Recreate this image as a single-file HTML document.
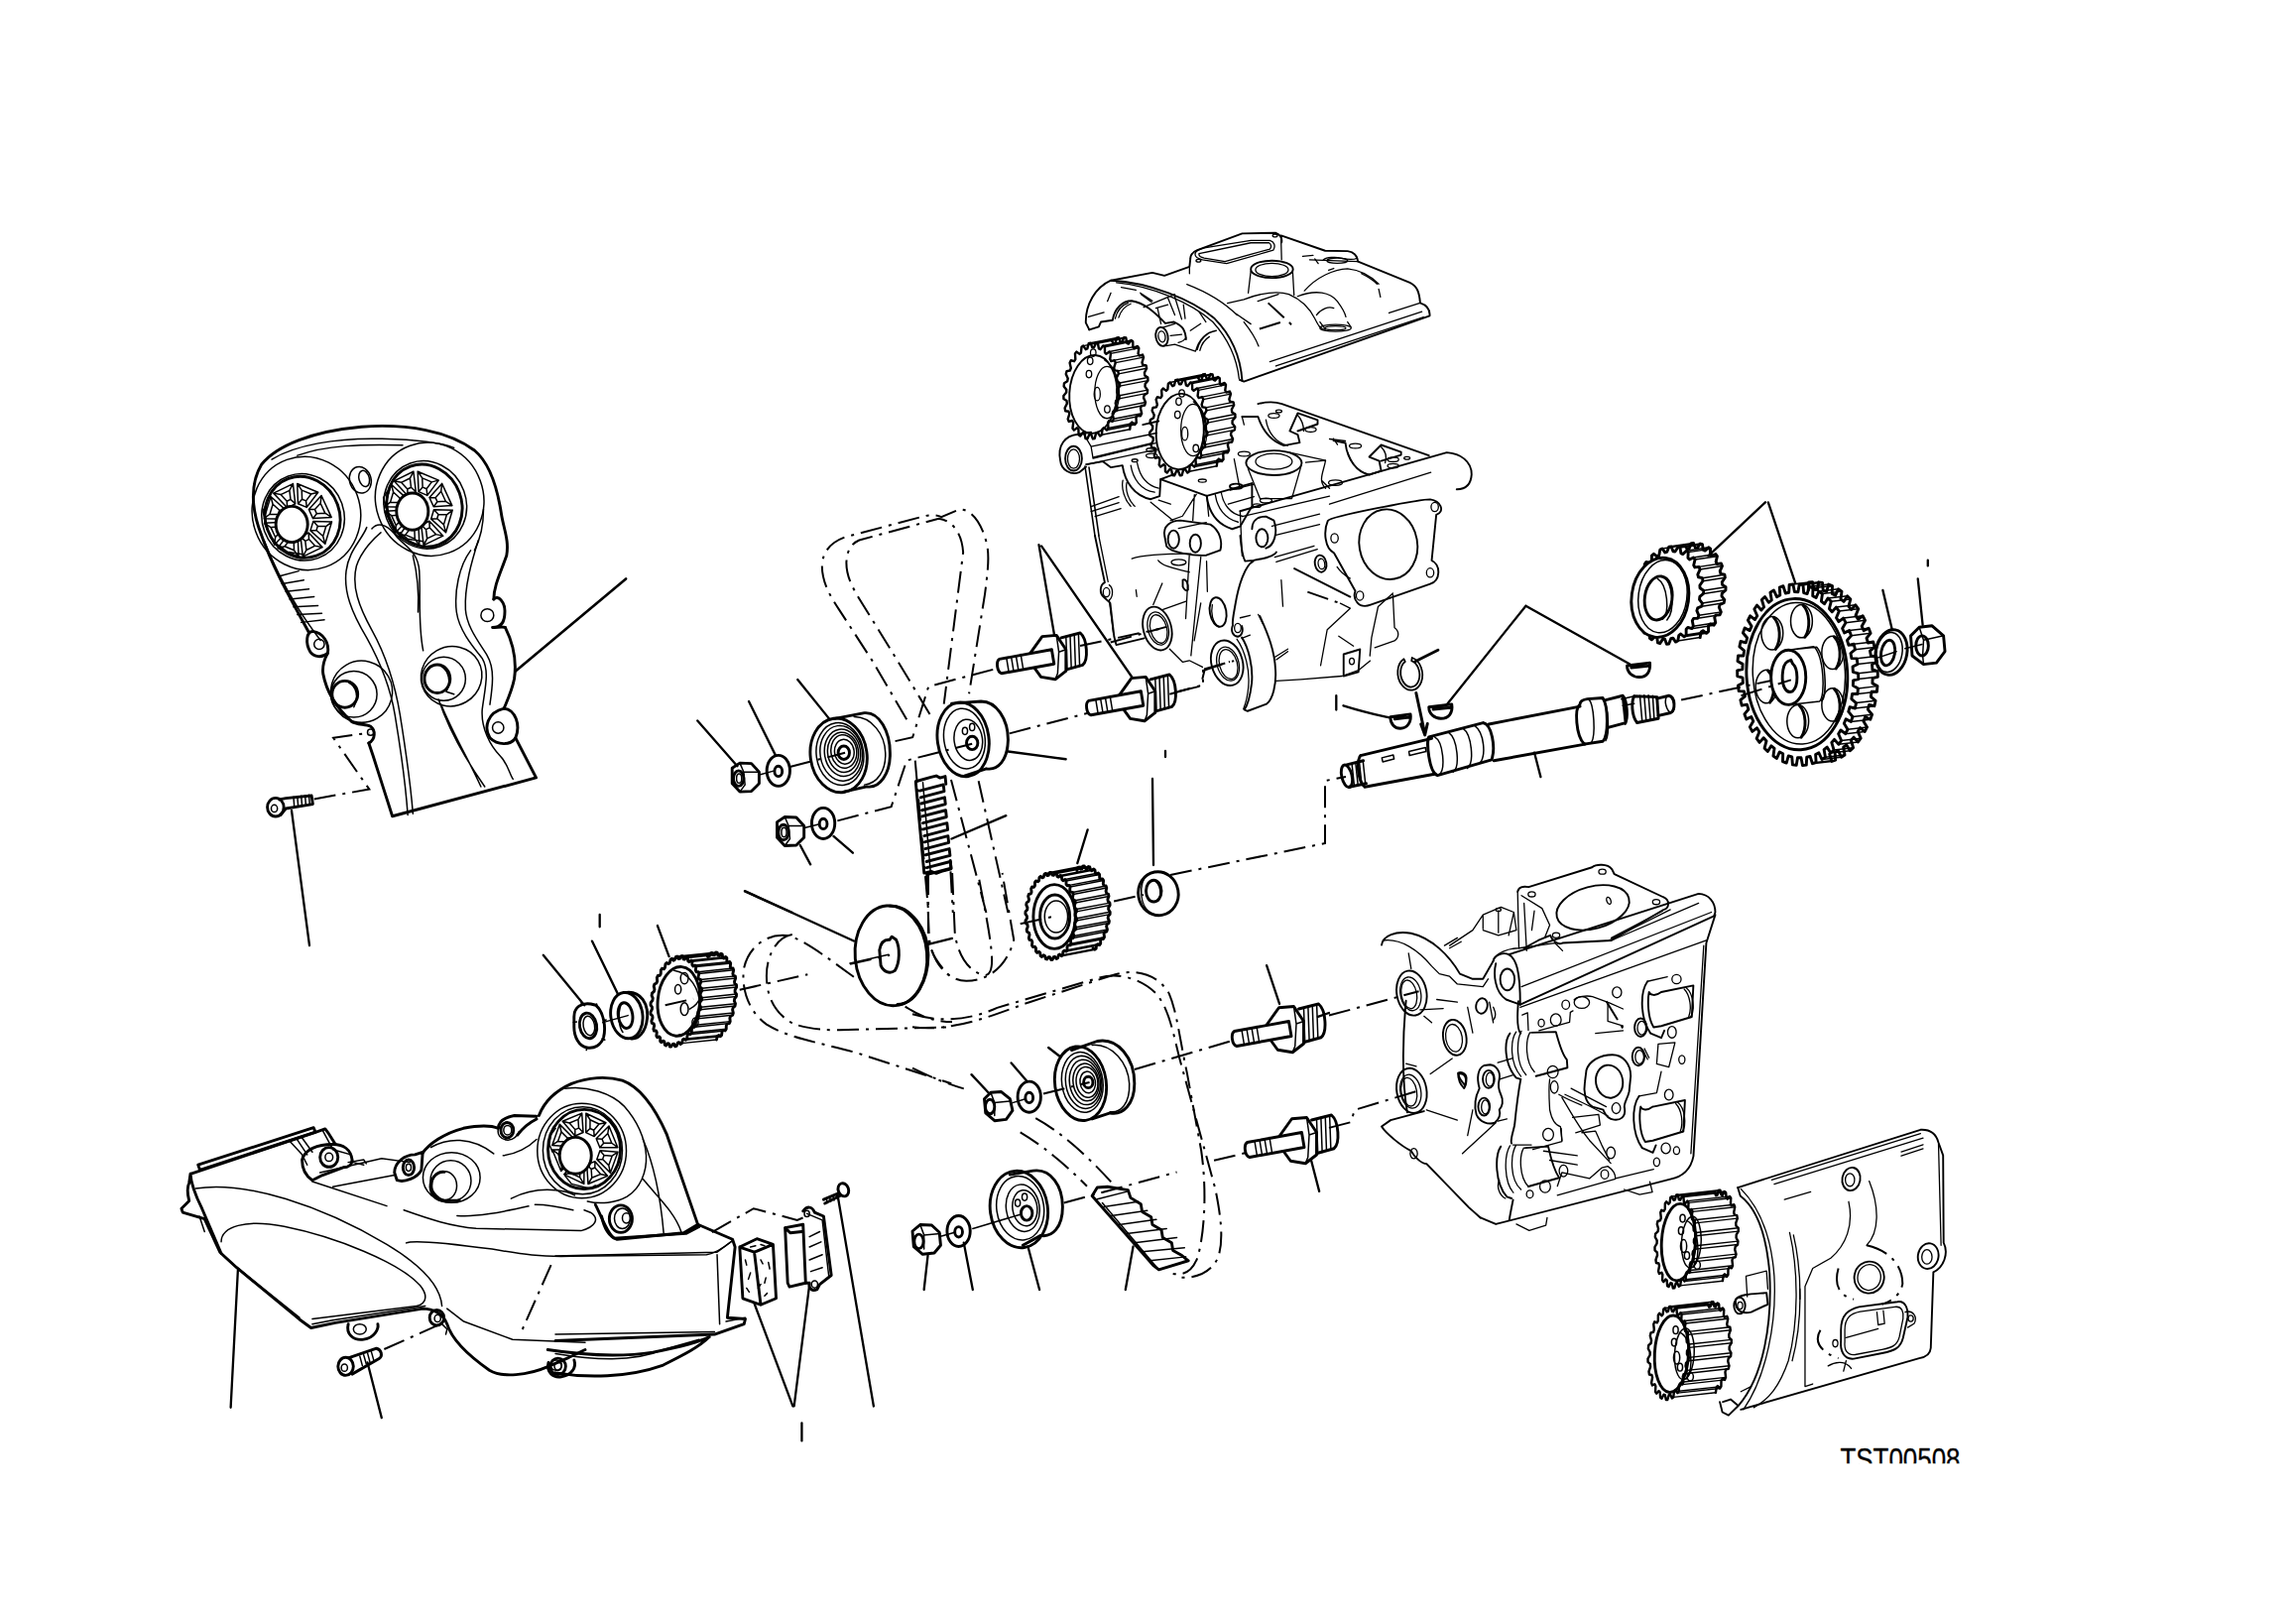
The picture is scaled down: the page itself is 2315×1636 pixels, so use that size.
<!DOCTYPE html>
<html><head><meta charset="utf-8"><style>
html,body{margin:0;padding:0;background:#fff;width:2315px;height:1636px;overflow:hidden}
svg{position:absolute;left:0;top:0}
.t,.tg{fill:none;stroke:#000;stroke-width:1.5;stroke-linejoin:round;stroke-linecap:round}
.k,.kg{fill:none;stroke:#000;stroke-width:2.9;stroke-linejoin:round;stroke-linecap:round}
.thin .t{stroke-width:1.3}
.thin .k{stroke-width:1.9}
.kg{stroke-width:2.4}
.tg{stroke-width:1.4}
.f{fill:#000;stroke:none}
.w{fill:#fff;stroke:#000;stroke-width:2.2}
.d{fill:none;stroke:#000;stroke-width:2;stroke-dasharray:22 7 3 7}
path,ellipse,circle,rect,line,polyline,polygon{vector-effect:non-scaling-stroke}
text{font-family:"Liberation Sans",sans-serif}
</style></head><body>
<svg width="2315" height="1636" viewBox="0 0 2315 1636">
<!-- A: top-left cover region [230,410,650,830] -->
<g transform="translate(230,410) scale(0.25878)">
<path class="k" d="M640,1595 L600,1470 L565,1360 L548,1310 M480,1225 C430,1180 385,1120 370,1040 C365,1000 380,975 388,960 M315,880 C250,760 170,620 130,500 C90,400 85,300 130,225 C190,150 330,95 520,78 C700,65 860,95 960,170 C1020,220 1050,320 1065,420 C1075,480 1095,520 1085,580 C1060,650 1035,700 1035,750 M1080,860 C1110,920 1125,990 1115,1060 C1105,1110 1085,1150 1075,1175 M1120,1290 L1200,1445 L640,1595"/>
<path class="k" d="M1035,750 C1050,730 1080,760 1078,800 C1078,840 1060,860 1030,860 C1050,860 1070,855 1080,860"/>
<path class="t" d="M1010,812 m-25,0 a25,25 0 1,0 50,0 a25,25 0 1,0 -50,0"/>
<path class="k" d="M1075,1175 C1120,1180 1140,1240 1120,1290 C1100,1320 1050,1320 1020,1290 C995,1250 1010,1190 1075,1175"/>
<path class="t" d="M1052,1250 m-22,0 a22,22 0 1,0 44,0 a22,22 0 1,0 -44,0"/>
<path class="k" d="M388,960 C395,920 370,880 330,875 C305,875 300,920 320,955 C335,975 365,980 388,960"/>
<path class="t" d="M355,925 m-20,0 a20,20 0 1,0 40,0 a20,20 0 1,0 -40,0"/>
<path class="k" d="M548,1310 C575,1295 575,1260 555,1245 C535,1235 500,1240 480,1225"/>
<path class="t" d="M555,1268 m-12,0 a12,12 0 1,0 24,0 a12,12 0 1,0 -24,0"/>
<!-- inner top outline -->
<path class="t" d="M170,205 C260,150 420,120 600,125 C720,128 830,140 880,160 M270,190 C380,150 520,145 680,150"/>
<!-- left pulley ring -->
<ellipse class="t" cx="305" cy="415" rx="210" ry="222" transform="rotate(-20 305 415)"/>
<ellipse class="t" cx="292" cy="430" rx="160" ry="170" transform="rotate(-20 292 430)"/>
<ellipse class="k" cx="290" cy="430" rx="145" ry="160" transform="rotate(-20 290 430)"/>
<!-- right pulley ring -->
<ellipse class="t" cx="785" cy="360" rx="210" ry="222" transform="rotate(-20 785 360)"/>
<ellipse class="t" cx="768" cy="382" rx="160" ry="172" transform="rotate(-20 768 382)"/>
<ellipse class="k" cx="765" cy="385" rx="145" ry="162" transform="rotate(-20 765 385)"/>
<!-- spokes left -->
<path class="t" d="M331.6,446.7 L403.9,448.5 L377.9,534.4 L320.7,482.4 Z M349.0,464.9 L381.5,465.8 L369.8,504.4 L344.1,481.0 Z M331.6,446.7 L349.0,464.9 M403.9,448.5 L381.5,465.8 M377.9,534.4 L369.8,504.4 M320.7,482.4 L344.1,481.0 M313.8,490.7 L367.1,547.3 L291.2,584.1 L282.3,506.0 Z M314.9,516.1 L338.9,541.6 L304.8,558.2 L300.7,523.0 Z M313.8,490.7 L314.9,516.1 M367.1,547.3 L338.9,541.6 M291.2,584.1 L304.8,558.2 M282.3,506.0 L300.7,523.0 M271.6,506.2 L274.6,584.4 L193.3,550.6 L237.8,492.2 Z M255.8,523.9 L257.1,559.1 L220.5,543.8 L240.5,517.5 Z M271.6,506.2 L255.8,523.9 M274.6,584.4 L257.1,559.1 M193.3,550.6 L220.5,543.8 M237.8,492.2 L240.5,517.5 M229.6,484.1 L180.6,538.1 L141.5,453.5 L213.3,448.9 Z M206.1,483.7 L184.1,508.0 L166.5,469.9 L198.8,467.8 Z M229.6,484.1 L206.1,483.7 M180.6,538.1 L184.1,508.0 M141.5,453.5 L166.5,469.9 M213.3,448.9 L198.8,467.8 M212.4,437.3 L140.1,435.5 L166.1,349.6 L223.3,401.6 Z M195.0,419.1 L162.5,418.2 L174.2,379.6 L199.9,403.0 Z M212.4,437.3 L195.0,419.1 M140.1,435.5 L162.5,418.2 M166.1,349.6 L174.2,379.6 M223.3,401.6 L199.9,403.0 M230.2,393.3 L176.9,336.7 L252.8,299.9 L261.7,378.0 Z M229.1,367.9 L205.1,342.4 L239.2,325.8 L243.3,361.0 Z M230.2,393.3 L229.1,367.9 M176.9,336.7 L205.1,342.4 M252.8,299.9 L239.2,325.8 M261.7,378.0 L243.3,361.0 M272.4,377.8 L269.4,299.6 L350.7,333.4 L306.2,391.8 Z M288.2,360.1 L286.9,324.9 L323.5,340.2 L303.5,366.5 Z M272.4,377.8 L288.2,360.1 M269.4,299.6 L286.9,324.9 M350.7,333.4 L323.5,340.2 M306.2,391.8 L303.5,366.5 M314.4,399.9 L363.4,345.9 L402.5,430.5 L330.7,435.1 Z M337.9,400.3 L359.9,376.0 L377.5,414.1 L345.2,416.2 Z M314.4,399.9 L337.9,400.3 M363.4,345.9 L359.9,376.0 M402.5,430.5 L377.5,414.1 M330.7,435.1 L345.2,416.2"/>
<ellipse class="k" style="fill:#fff" cx="248" cy="458" rx="62" ry="70"/>
<path class="t" d="M150,380 l-15,25 l10,40 M200,540 l30,25 l60,10"/>
<path class="t" d="M801.7,401.0 L874.1,403.1 L848.4,489.9 L791.0,437.0 Z M819.2,419.5 L851.8,420.5 L840.2,459.5 L814.4,435.8 Z M801.7,401.0 L819.2,419.5 M874.1,403.1 L851.8,420.5 M848.4,489.9 L840.2,459.5 M791.0,437.0 L814.4,435.8 M784.1,445.4 L837.7,502.9 L761.8,539.8 L752.5,460.8 Z M785.3,471.1 L809.4,497.0 L775.3,513.6 L771.1,478.0 Z M784.1,445.4 L785.3,471.1 M837.7,502.9 L809.4,497.0 M761.8,539.8 L775.3,513.6 M752.5,460.8 L771.1,478.0 M741.9,461.0 L745.2,540.1 L663.6,505.5 L707.9,446.6 Z M726.1,478.7 L727.6,514.3 L690.9,498.8 L710.8,472.3 Z M741.9,461.0 L726.1,478.7 M745.2,540.1 L727.6,514.3 M663.6,505.5 L690.9,498.8 M707.9,446.6 L710.8,472.3 M699.7,438.4 L650.9,492.9 L611.3,407.1 L683.3,402.8 Z M676.2,437.9 L654.2,462.4 L636.4,423.8 L668.8,421.8 Z M699.7,438.4 L676.2,437.9 M650.9,492.9 L654.2,462.4 M611.3,407.1 L636.4,423.8 M683.3,402.8 L668.8,421.8 M682.3,391.0 L609.9,388.9 L635.6,302.1 L693.0,355.0 Z M664.8,372.5 L632.2,371.5 L643.8,332.5 L669.6,356.2 Z M682.3,391.0 L664.8,372.5 M609.9,388.9 L632.2,371.5 M635.6,302.1 L643.8,332.5 M693.0,355.0 L669.6,356.2 M699.9,346.6 L646.3,289.1 L722.2,252.2 L731.5,331.2 Z M698.7,320.9 L674.6,295.0 L708.7,278.4 L712.9,314.0 Z M699.9,346.6 L698.7,320.9 M646.3,289.1 L674.6,295.0 M722.2,252.2 L708.7,278.4 M731.5,331.2 L712.9,314.0 M742.1,331.0 L738.8,251.9 L820.4,286.5 L776.1,345.4 Z M757.9,313.3 L756.4,277.7 L793.1,293.2 L773.2,319.7 Z M742.1,331.0 L757.9,313.3 M738.8,251.9 L756.4,277.7 M820.4,286.5 L793.1,293.2 M776.1,345.4 L773.2,319.7 M784.3,353.6 L833.1,299.1 L872.7,384.9 L800.7,389.2 Z M807.8,354.1 L829.8,329.6 L847.6,368.2 L815.2,370.2 Z M784.3,353.6 L807.8,354.1 M833.1,299.1 L829.8,329.6 M872.7,384.9 L847.6,368.2 M800.7,389.2 L815.2,370.2"/>
<ellipse class="k" style="fill:#fff" cx="718" cy="408" rx="62" ry="72"/>
<path class="t" d="M620,330 l-15,25 l10,40 M670,490 l30,25 l60,10"/>
<!-- small hole -->
<ellipse class="t" cx="515" cy="285" rx="42" ry="52" transform="rotate(-15 515 285)"/>
<ellipse class="t" cx="530" cy="280" rx="20" ry="32" transform="rotate(-15 530 280)"/>
<!-- channels -->
<path class="t" d="M540,470 C520,520 470,560 460,640 C450,720 480,800 540,900 C590,990 630,1080 650,1200 C670,1320 690,1450 700,1590"/>
<path class="t" d="M595,490 C570,510 520,560 500,620 C480,700 510,780 560,870 C610,960 650,1080 670,1200 C690,1330 710,1450 720,1585"/>
<path class="t" d="M560,475 C590,440 630,470 660,510 C700,550 740,570 745,640 C750,760 740,850 760,950 M720,580 C735,640 745,700 740,800"/>
<path class="t" d="M830,1160 C880,1280 940,1380 985,1480 M820,1140 C860,1260 930,1380 1000,1480"/>
<path class="t" d="M945,560 C900,620 880,720 890,800 C900,870 950,930 990,980 C1020,1030 1000,1100 990,1180 C985,1250 1020,1320 1060,1360 C1090,1390 1100,1440 1110,1450"/>
<path class="t" d="M975,520 C950,600 920,700 925,790 C930,860 980,920 1010,970 C1040,1020 1030,1090 1020,1160"/>
<path class="t" d="M995,400 C995,470 980,520 960,560"/>
<path class="t" d="M140,520 C170,600 220,700 270,780 C300,830 330,870 360,910"/>
<!-- fins -->
<path class="t" d="M200,660 L275,640 M210,690 L295,675 M225,720 L315,710 M240,750 L335,740 M255,780 L350,775 M270,810 L365,805 M285,840 L375,830"/>
<!-- bosses -->
<ellipse class="t" cx="520" cy="1110" rx="120" ry="120" transform="rotate(-30 520 1110)"/>
<ellipse class="t" cx="490" cy="1120" rx="90" ry="90"/>
<ellipse class="k" cx="455" cy="1120" rx="50" ry="52"/>
<path class="t" d="M470,1075 C500,1090 510,1130 490,1170"/>
<ellipse class="t" cx="870" cy="1050" rx="120" ry="115" transform="rotate(-30 870 1050)"/>
<ellipse class="t" cx="840" cy="1060" rx="85" ry="85"/>
<ellipse class="k" cx="815" cy="1060" rx="50" ry="55"/>
<path class="t" d="M830,1010 C860,1030 870,1070 850,1110 L880,1120"/>
<!-- leader -->
<path class="k" style="stroke-width:2.6" d="M1120,1030 L1550,670"/>
<!-- dash-dot -->
<path class="d" d="M335,1528 L550,1490 L410,1290 L550,1270"/>
<!-- bolt -->
<ellipse class="k" cx="185" cy="1560" rx="32" ry="36"/>
<ellipse class="t" cx="180" cy="1565" rx="12" ry="14"/>
<path class="k" d="M200,1530 L225,1525 L325,1515 L330,1548 L225,1565 L205,1590"/>
<path class="t" d="M255,1520 L258,1560 M270,1518 L273,1558 M285,1516 L288,1555 M300,1514 L303,1552 M315,1512 L318,1550"/>

</g>
<!-- B: cylinder head top region [1000,200,1600,700] scale 3.247 -->
<g class="thin" transform="translate(1000,200) scale(0.30801)">
<!-- cam gear 1 -->
<path class="kg" d="M409.7,634.3 L418.1,645.1 L417.0,655.4 L406.6,662.0 L404.9,670.9 L411.3,685.3 L408.7,694.8 L397.9,696.7 L394.9,704.8 L398.8,721.7 L394.9,729.9 L384.3,726.9 L380.2,733.5 L381.4,751.8 L376.4,758.1 L366.8,750.5 L361.9,755.1 L360.2,773.6 L354.5,777.6 L346.5,765.9 L341.2,768.3 L336.8,785.7 L330.8,787.1 L325.0,772.0 L319.6,772.0 L312.7,787.1 L306.8,785.8 L303.6,768.4 L298.4,766.0 L289.6,777.9 L284.2,773.9 L283.8,755.4 L279.2,750.8 L269.1,758.5 L264.5,752.2 L266.9,733.9 L263.3,727.3 L252.5,730.4 L249.1,722.2 L254.1,705.3 L251.7,697.2 L240.9,695.5 L239.0,685.9 L246.3,671.5 L245.2,662.6 L235.3,656.1 L234.8,645.8 L244.0,635.0 L244.3,625.7 L235.9,614.9 L237.0,604.6 L247.4,598.0 L249.1,589.1 L242.7,574.7 L245.3,565.2 L256.1,563.3 L259.1,555.2 L255.2,538.3 L259.1,530.1 L269.7,533.1 L273.8,526.5 L272.6,508.2 L277.6,501.9 L287.2,509.5 L292.1,504.9 L293.8,486.4 L299.5,482.4 L307.5,494.1 L312.8,491.7 L317.2,474.3 L323.2,472.9 L329.0,488.0 L334.4,488.0 L341.3,472.9 L347.2,474.2 L350.4,491.6 L355.6,494.0 L364.4,482.1 L369.8,486.1 L370.2,504.6 L374.8,509.2 L384.9,501.5 L389.5,507.8 L387.1,526.1 L390.7,532.7 L401.5,529.6 L404.9,537.8 L399.9,554.7 L402.3,562.8 L413.1,564.5 L415.0,574.1 L407.7,588.5 L408.8,597.4 L418.7,603.9 L419.2,614.2 L410.0,625.0 Z"/>
<path class="tg" d="M418.1,645.1 l92.0,-18.0 M417.0,655.4 l92.0,-18.0 M411.3,685.3 l92.0,-18.0 M408.7,694.8 l92.0,-18.0 M398.8,721.7 l92.0,-18.0 M394.9,729.9 l92.0,-18.0 M381.4,751.8 l92.0,-18.0 M376.4,758.1 l92.0,-18.0 M360.2,773.6 l92.0,-18.0 M299.5,482.4 l92.0,-18.0 M317.2,474.3 l92.0,-18.0 M323.2,472.9 l92.0,-18.0 M341.3,472.9 l92.0,-18.0 M347.2,474.2 l92.0,-18.0 M364.4,482.1 l92.0,-18.0 M369.8,486.1 l92.0,-18.0 M384.9,501.5 l92.0,-18.0 M389.5,507.8 l92.0,-18.0 M401.5,529.6 l92.0,-18.0 M404.9,537.8 l92.0,-18.0 M413.1,564.5 l92.0,-18.0 M415.0,574.1 l92.0,-18.0 M418.7,603.9 l92.0,-18.0 M419.2,614.2 l92.0,-18.0"/>
<path class="kg" d="M501.7,616.3 L510.1,627.1 L509.0,637.4 L498.6,644.0 L496.9,652.9 L503.3,667.3 L500.7,676.8 L489.9,678.7 L486.9,686.8 L490.8,703.7 L486.9,711.9 L476.3,708.9 L472.2,715.5 L473.4,733.8 L468.4,740.1 L458.8,732.5 L453.9,737.1 L452.2,755.6 M391.5,464.4 L399.5,476.1 L404.8,473.7 L409.2,456.3 L415.2,454.9 L421.0,470.0 L426.4,470.0 L433.3,454.9 L439.2,456.2 L442.4,473.6 L447.6,476.0 L456.4,464.1 L461.8,468.1 L462.2,486.6 L466.8,491.2 L476.9,483.5 L481.5,489.8 L479.1,508.1 L482.7,514.7 L493.5,511.6 L496.9,519.8 L491.9,536.7 L494.3,544.8 L505.1,546.5 L507.0,556.1 L499.7,570.5 L500.8,579.4 L510.7,585.9 L511.2,596.2 L502.0,607.0 L501.7,616.3"/>
<ellipse class="k" cx="332" cy="641" rx="78" ry="128" transform="rotate(3 332 641)"/>
<ellipse class="t" cx="377" cy="635" rx="40" ry="85"/>
<path class="t" d="M370,530 C420,560 425,660 395,700"/>
<ellipse class="t" cx="322" cy="532" rx="9" ry="12"/><ellipse class="t" cx="318" cy="575" rx="9" ry="12"/><ellipse class="t" cx="345" cy="640" rx="10" ry="22"/><ellipse class="t" cx="378" cy="690" rx="9" ry="12"/><ellipse class="t" cx="332" cy="505" rx="9" ry="12"/>
<!-- cam gear 2 -->
<path class="kg" d="M697.4,754.5 L706.1,765.3 L705.0,775.5 L694.3,782.1 L692.5,791.1 L699.2,805.4 L696.5,815.0 L685.3,816.8 L682.2,824.9 L686.3,841.8 L682.2,850.0 L671.3,847.0 L667.1,853.6 L668.3,871.9 L663.2,878.2 L653.2,870.6 L648.2,875.2 L646.5,893.7 L640.7,897.7 L632.4,885.9 L626.9,888.3 L622.4,905.7 L616.2,907.1 L610.2,892.0 L604.6,892.0 L597.5,907.1 L591.4,905.8 L588.0,888.4 L582.7,886.0 L573.7,897.8 L568.1,893.9 L567.6,875.4 L562.9,870.7 L552.4,878.4 L547.7,872.2 L550.1,853.8 L546.4,847.2 L535.2,850.3 L531.7,842.1 L536.9,825.2 L534.3,817.1 L523.3,815.3 L521.2,805.8 L528.8,791.4 L527.6,782.4 L517.3,775.9 L516.9,765.7 L526.3,754.8 L526.6,745.5 L517.9,734.7 L519.0,724.5 L529.7,717.9 L531.5,708.9 L524.8,694.6 L527.5,685.0 L538.7,683.2 L541.8,675.1 L537.7,658.2 L541.8,650.0 L552.7,653.0 L556.9,646.4 L555.7,628.1 L560.8,621.8 L570.8,629.4 L575.8,624.8 L577.5,606.3 L583.3,602.3 L591.6,614.1 L597.1,611.7 L601.6,594.3 L607.8,592.9 L613.8,608.0 L619.4,608.0 L626.5,592.9 L632.6,594.2 L636.0,611.6 L641.3,614.0 L650.3,602.2 L655.9,606.1 L656.4,624.6 L661.1,629.3 L671.6,621.6 L676.3,627.8 L673.9,646.2 L677.6,652.8 L688.8,649.7 L692.3,657.9 L687.1,674.8 L689.7,682.9 L700.7,684.7 L702.8,694.2 L695.2,708.6 L696.4,717.6 L706.7,724.1 L707.1,734.3 L697.7,745.2 Z"/>
<path class="tg" d="M706.1,765.3 l90.0,-18.0 M705.0,775.5 l90.0,-18.0 M699.2,805.4 l90.0,-18.0 M696.5,815.0 l90.0,-18.0 M686.3,841.8 l90.0,-18.0 M682.2,850.0 l90.0,-18.0 M668.3,871.9 l90.0,-18.0 M663.2,878.2 l90.0,-18.0 M646.5,893.7 l90.0,-18.0 M583.3,602.3 l90.0,-18.0 M601.6,594.3 l90.0,-18.0 M607.8,592.9 l90.0,-18.0 M626.5,592.9 l90.0,-18.0 M632.6,594.2 l90.0,-18.0 M650.3,602.2 l90.0,-18.0 M655.9,606.1 l90.0,-18.0 M671.6,621.6 l90.0,-18.0 M676.3,627.8 l90.0,-18.0 M688.8,649.7 l90.0,-18.0 M692.3,657.9 l90.0,-18.0 M700.7,684.7 l90.0,-18.0 M702.8,694.2 l90.0,-18.0 M706.7,724.1 l90.0,-18.0 M707.1,734.3 l90.0,-18.0"/>
<path class="kg" d="M787.4,736.5 L796.1,747.3 L795.0,757.5 L784.3,764.1 L782.5,773.1 L789.2,787.4 L786.5,797.0 L775.3,798.8 L772.2,806.9 L776.3,823.8 L772.2,832.0 L761.3,829.0 L757.1,835.6 L758.3,853.9 L753.2,860.2 L743.2,852.6 L738.2,857.2 L736.5,875.7 M673.3,584.3 L681.6,596.1 L687.1,593.7 L691.6,576.3 L697.8,574.9 L703.8,590.0 L709.4,590.0 L716.5,574.9 L722.6,576.2 L726.0,593.6 L731.3,596.0 L740.3,584.2 L745.9,588.1 L746.4,606.6 L751.1,611.3 L761.6,603.6 L766.3,609.8 L763.9,628.2 L767.6,634.8 L778.8,631.7 L782.3,639.9 L777.1,656.8 L779.7,664.9 L790.7,666.7 L792.8,676.2 L785.2,690.6 L786.4,699.6 L796.7,706.1 L797.1,716.3 L787.7,727.2 L787.4,736.5"/>
<ellipse class="k" cx="616" cy="763" rx="78" ry="124" transform="rotate(3 616 763)"/>
<ellipse class="t" cx="659" cy="758" rx="40" ry="85"/>
<path class="t" d="M660,665 C710,695 715,790 685,830"/>
<ellipse class="t" cx="612" cy="665" rx="9" ry="12"/><ellipse class="t" cx="608" cy="708" rx="9" ry="12"/><ellipse class="t" cx="632" cy="770" rx="10" ry="22"/><ellipse class="t" cx="668" cy="818" rx="9" ry="12"/><ellipse class="t" cx="622" cy="638" rx="9" ry="12"/>

<!-- exhaust flange -->
<path class="k" d="M1100,1055 C1110,1040 1400,985 1435,985 C1470,990 1485,1025 1455,1035 L1440,1185 C1470,1200 1470,1250 1435,1262 L1240,1330 C1200,1345 1180,1310 1190,1285 L1120,1160 C1090,1145 1085,1090 1100,1055 Z"/>
<ellipse class="k" cx="1298" cy="1132" rx="95" ry="115" transform="rotate(-10 1298 1132)"/>
<ellipse class="t" cx="1122" cy="1112" rx="12" ry="15"/><ellipse class="t" cx="1450" cy="1010" rx="12" ry="15"/><ellipse class="t" cx="1435" cy="1225" rx="12" ry="15"/><ellipse class="t" cx="1205" cy="1300" rx="12" ry="15"/>
</g>
<!-- V: valve cover [1080,220,1480,420] scale 5.74 -->
<g class="thin" transform="translate(1080,220) scale(0.17422)">
<path class="k" d="M105,645 L85,605 C82,500 140,400 230,360 L470,315 L540,332 L685,280 L690,235 C690,210 705,195 730,185 L990,88 L1185,85 C1210,95 1222,115 1218,140 L1215,100 L1470,188 L1600,190 C1640,195 1655,215 1660,250 L1960,372 C2000,390 2015,425 2020,490 C2065,505 2078,530 2075,565 L1000,945 L975,935"/>
<path class="t" d="M1215,130 L1218,240 M685,280 L685,320 M2020,490 L1840,548 M2030,540 L1150,830 M2040,572 L1185,855 M1660,250 L1380,240"/>
<path class="t" d="M718,205 C720,190 740,180 770,172 L1040,128 L1150,128 C1175,135 1185,160 1170,185 L900,262 L760,240 C730,232 715,220 718,205 Z"/>
<path class="t" d="M740,205 L1040,142 L1145,142 C1160,150 1160,170 1150,178 L890,250 L770,230 C745,225 738,215 740,205 Z"/>
<ellipse class="t" cx="737" cy="245" rx="14" ry="8"/><ellipse class="t" cx="1180" cy="100" rx="14" ry="8"/>
<path class="k" d="M230,360 C450,370 700,470 830,580 C930,680 980,800 990,940"/>
<path class="t" d="M262,372 C470,392 700,490 820,600 C910,700 958,800 972,928"/>
<path class="t" d="M670,382 C800,432 900,500 960,560 M950,550 L1040,612 M1000,600 C1040,650 1070,700 1085,740"/>
<path class="k" d="M105,645 L160,628 L172,600 L240,590 C250,520 300,478 350,478 C420,488 480,540 545,608 L595,600 C640,620 660,640 665,700"/>
<path class="t" d="M255,580 C270,520 300,500 330,490 M275,575 C290,525 320,505 345,495 M100,570 L190,545 M420,515 L600,440 M490,520 L560,500"/>
<ellipse class="k" cx="525" cy="685" rx="35" ry="55" transform="rotate(-10 525 685)"/>
<ellipse class="t" cx="525" cy="685" rx="20" ry="32" transform="rotate(-10 525 685)"/>
<path class="t" d="M530,632 L600,610 M550,738 L600,730 L720,770 C740,700 780,660 840,650 M575,680 L640,672 M620,720 C650,712 660,700 665,690 M730,760 C740,720 760,690 790,670 M745,765 C755,725 775,700 800,685"/>
<path class="t" d="M560,460 L600,560 M600,455 L640,585 M650,500 L660,580 M400,432 L470,478 M405,440 L465,485 M290,400 L375,415 M230,432 L210,480 M500,520 L520,610 M740,540 L780,600 M690,650 L750,610"/>
<!-- filler cylinder -->
<ellipse class="k" cx="1162" cy="295" rx="122" ry="50"/>
<ellipse class="t" cx="1162" cy="298" rx="95" ry="38"/>
<path class="t" d="M1040,305 L1025,432 M1282,305 L1290,445"/>
<path class="t" d="M1340,220 L1400,215 M1410,235 L1430,262 M1460,240 C1480,225 1530,222 1560,230 C1600,240 1640,240 1650,232"/>
<ellipse class="t" cx="1540" cy="245" rx="60" ry="15"/>
<!-- humps -->
<path class="t" d="M905,492 L1000,470 C1100,430 1200,420 1260,440 C1330,470 1380,520 1410,580 C1430,620 1440,640 1470,645"/>
<path class="t" d="M1310,452 C1420,410 1500,430 1540,480 C1570,520 1585,550 1590,570 M1420,560 C1450,520 1490,510 1520,520"/>
<path class="t" d="M1350,420 C1420,340 1520,295 1600,292 C1680,300 1740,340 1780,380 M1680,320 C1720,340 1750,360 1770,380 M1780,410 L1790,455 M1490,300 L1520,290"/>
<ellipse class="t" cx="1530" cy="635" rx="90" ry="20"/><ellipse class="t" cx="1530" cy="635" rx="60" ry="12"/>
<path class="t" d="M1440,600 L1470,640 M1600,600 L1620,630"/>
<path class="d" d="M1140,490 L1280,620 M1090,640 L1235,595"/>
<path class="t" d="M1080,480 L1200,440"/>
</g>
<!-- HB: head top [1040,380,1500,560] scale 4.991 -->
<g class="thin" transform="translate(1040,380) scale(0.20035)">
<path class="k" d="M145,420 C130,340 170,295 235,288 L300,278 M560,240 L640,222 M145,420 C150,470 200,495 240,480 L275,452"/>
<ellipse class="k" cx="212" cy="410" rx="42" ry="62"/><ellipse class="t" cx="212" cy="412" rx="30" ry="48"/>
<path class="t" d="M260,282 L300,350 L630,282 M300,350 L310,410 M310,410 L625,332 M280,440 L640,362"/>
<path class="k" d="M312,405 L600,335"/>
<!-- saddle 1 -->
<path class="k" d="M275,440 L360,425 L400,455 L458,445 C470,530 520,600 600,615 L645,600 L650,515 L720,488"/>
<path class="t" d="M500,445 C510,510 550,570 620,580 M532,432 C545,500 580,545 640,560 M460,520 C450,560 470,620 500,650 M480,530 C470,570 490,625 520,650"/>
<ellipse class="t" cx="600" cy="367" rx="22" ry="9"/><ellipse class="t" cx="605" cy="396" rx="28" ry="11"/><ellipse class="t" cx="520" cy="420" rx="15" ry="7"/>
<!-- center block -->
<path class="k" d="M650,515 L882,598 L1110,535"/>
<path class="t" d="M882,598 L892,700 M640,620 L700,640 M600,630 L710,720"/>
<ellipse class="t" cx="860" cy="522" rx="20" ry="8"/><ellipse class="k" cx="1030" cy="550" rx="32" ry="13"/>
<!-- saddle 2 -->
<path class="k" d="M882,598 C892,680 932,740 1010,765 L1050,752 L1110,650 L1110,535"/>
<path class="t" d="M925,592 C935,660 975,715 1040,730 M955,582 C965,640 1000,690 1060,700 M1000,570 L1120,540 M990,640 L1120,602"/>
<!-- right rail -->
<path class="k" d="M1050,675 L2090,380 C2160,385 2215,425 2215,490 C2212,545 2180,565 2140,565"/>
<path class="t" d="M1060,702 L1500,600 M1500,640 L2010,480 M1050,675 L1060,900 M1210,750 L1450,690 M1230,795 L1450,742"/>
<path class="k" d="M1110,765 C1110,722 1140,702 1180,702 L1220,722 C1242,780 1222,850 1180,862"/>
<ellipse class="k" cx="1160" cy="810" rx="30" ry="45"/>
<!-- back edge -->
<path class="k" d="M1140,135 C1180,125 1230,125 1260,135 L2000,395"/>
<path class="k" d="M1060,200 L1140,200 C1160,260 1200,320 1270,345 L1350,330 L1340,290 L1300,272 L1340,182 L1440,217 L1440,237 L1340,272"/>
<path class="t" d="M1180,215 C1190,280 1230,330 1290,345 M1340,192 C1360,215 1370,240 1370,272 M1060,200 L1070,240"/>
<ellipse class="t" cx="1220" cy="195" rx="28" ry="12"/><ellipse class="t" cx="1245" cy="172" rx="15" ry="7"/><ellipse class="t" cx="1405" cy="265" rx="28" ry="12"/>
<path class="k" d="M1520,320 L1580,332 C1590,420 1640,480 1700,492 L1760,472 L1750,422 L1700,402 L1760,342 L1860,377 L1860,392 L1760,422"/>
<path class="t" d="M1592,380 C1612,440 1652,480 1702,492 M1760,352 C1780,372 1790,402 1780,432 M1300,380 L1480,420 M1500,312 L1580,322 M1520,310 L1540,340"/>
<ellipse class="t" cx="1630" cy="347" rx="30" ry="12"/><ellipse class="t" cx="1820" cy="415" rx="28" ry="11"/><ellipse class="t" cx="1890" cy="408" rx="15" ry="7"/><ellipse class="t" cx="1820" cy="447" rx="28" ry="11"/>
<!-- spark plug boss -->
<ellipse class="k" cx="1220" cy="432" rx="140" ry="62"/><ellipse class="t" cx="1220" cy="425" rx="92" ry="40"/>
<path class="t" d="M1090,462 L1150,612 M1358,445 L1310,612 M1150,612 L1310,612 M1020,412 L1048,560 M1380,430 L1480,420 C1470,480 1440,520 1480,560 M1460,520 L1500,560"/>
<ellipse class="t" cx="1070" cy="387" rx="30" ry="12"/><ellipse class="t" cx="1530" cy="532" rx="35" ry="14"/><ellipse class="t" cx="1180" cy="622" rx="30" ry="12"/><ellipse class="t" cx="1135" cy="647" rx="20" ry="9"/>
<!-- bolt boss -->
<path class="k" d="M670,800 C660,750 700,722 750,722 L900,742 C950,772 962,832 950,872 L880,897 C820,902 700,882 680,852 Z"/>
<ellipse class="k" cx="715" cy="817" rx="28" ry="45"/><ellipse class="k" cx="825" cy="837" rx="28" ry="45"/>
<path class="t" d="M700,722 L760,700 L830,590 M820,592 L812,722 M740,762 L880,732"/>
<path class="t" d="M300,652 L440,602 M300,677 L440,632 M320,702 L450,662"/>
</g>
<!-- HL: head lower [1080,540,1460,730] scale 6.042 -->
<g class="thin" transform="translate(1080,540) scale(0.16551)">
<path class="k" d="M145,0 L205,285 C175,300 170,350 200,375 L238,410 L262,615 L275,665 L445,625"/>
<path class="t" d="M168,0 L225,280 M232,300 C260,320 255,375 232,392 L258,600"/>
<ellipse class="t" cx="215" cy="345" rx="20" ry="28"/>
<ellipse class="k" cx="525" cy="565" rx="85" ry="135" transform="rotate(-15 525 565)"/>
<ellipse class="t" cx="530" cy="565" rx="62" ry="102" transform="rotate(-15 530 565)"/>
<ellipse class="t" cx="533" cy="568" rx="50" ry="88" transform="rotate(-15 533 568)"/>
<path class="t" d="M555,290 L500,420 M560,450 L700,400"/>
<ellipse class="k" cx="950" cy="775" rx="95" ry="140" transform="rotate(-15 950 775)"/>
<ellipse class="t" cx="955" cy="780" rx="66" ry="105" transform="rotate(-15 955 780)"/>
<ellipse class="t" cx="958" cy="783" rx="54" ry="92" transform="rotate(-15 958 783)"/>
<path class="d" d="M240,650 L580,555 M810,812 L992,762 M600,965 L790,912 L812,822"/>
<path class="t" d="M370,140 C450,112 600,110 730,110 M530,150 C560,190 640,200 720,222 M720,120 L698,505 M790,130 L730,730 M825,155 L830,340 M790,410 L750,640 M395,330 L400,370 M600,690 L680,770 L720,760 L800,800"/>
<ellipse class="t" cx="655" cy="162" rx="45" ry="18"/>
<path class="k" d="M680,270 C700,260 715,290 712,330 C700,340 690,330 680,310 Z"/>
<ellipse class="k" cx="895" cy="465" rx="50" ry="90" transform="rotate(-10 895 465)"/>
<path class="t" d="M860,420 C850,470 860,530 900,555"/>
<path class="k" d="M1030,0 C1035,60 1040,120 1060,155 L1110,150 C1180,140 1240,120 1250,100 M1110,155 C1060,180 1020,300 1000,420 C990,480 980,520 985,545 C970,580 985,610 1015,615 C1040,610 1050,580 1040,550 M1040,620 C1080,680 1110,800 1100,900 C1090,980 1070,1040 1055,1060 L1075,1068 L1190,1025 C1230,1000 1250,900 1245,820 C1240,700 1200,600 1150,490"/>
<ellipse class="t" cx="1015" cy="562" rx="20" ry="28"/>
<path class="t" d="M1010,630 C1060,700 1090,820 1080,920 C1075,980 1060,1030 1050,1055 M1030,500 L1090,485 M1040,625 L1090,605 M1240,740 L1320,690 M1250,755 L1320,705 M1280,270 L1290,430 M1140,480 L1170,540"/>
<path class="t" d="M1240,130 L1480,62 M1250,160 L1500,82"/>
<ellipse class="k" cx="1520" cy="170" rx="35" ry="52" transform="rotate(-10 1520 170)"/>
<ellipse class="t" cx="1525" cy="172" rx="20" ry="32" transform="rotate(-10 1525 172)"/>
<path class="k" d="M1360,200 L1700,372"/>
<path class="d" d="M1440,342 L1640,412"/>
<path class="t" d="M1620,190 C1640,220 1660,240 1700,260 M1640,412 L1700,442 M1700,442 L1560,572 L1520,790 M1960,350 L1870,432 L1830,622 L1820,732 M1960,360 L1970,560 C2000,580 2000,620 1970,640 L1850,682 M1630,612 L1720,672 M1250,885 L1400,875 L1650,855 L1750,820 L1822,762"/>
<path class="k" d="M1660,722 L1760,692 L1750,830 L1660,855 Z"/>
<ellipse class="t" cx="1710" cy="765" rx="15" ry="20"/>
</g>
<!-- C: center belt region [680,500,1100,920] scale 3.864 -->
<g transform="translate(680,500) scale(0.25878)">
<path class="d" d="M905,870 L770,640 L640,440 C600,380 575,330 575,270 C578,215 610,180 665,160 L960,82 C990,72 1020,72 1040,82 L1110,52 C1160,50 1200,110 1218,190 C1228,240 1220,300 1210,380 L1148,770"/>
<path class="d" d="M995,850 L850,610 L720,400 C690,350 670,310 670,260 C672,210 690,185 720,172 L1030,88 C1080,95 1120,140 1125,220 L1050,810"/>
<path class="d" d="M860,955 L928,940 L990,742 L1320,655"/>
<path class="d" d="M450,1055 L665,1000"/>
<path class="d" d="M635,1265 L845,1210 L905,1030 L1160,965"/>
<path class="d" d="M1305,925 L1623,842"/>
<path class="d" d="M938,1030 L990,1623 M1078,1105 L1215,1623 M1185,1110 L1300,1623 M1076,1462 L1085,1623"/>
<!-- pulley 1 -->
<path class="k" d="M620,868 L740,845 C800,840 840,920 840,1000 C842,1080 800,1140 750,1132 L660,1152"/>
<path class="t" d="M700,860 C770,860 820,930 822,1000 C825,1070 790,1120 740,1125"/>
<ellipse class="k" cx="640" cy="1010" rx="110" ry="145" transform="rotate(-8 640 1010)"/>
<ellipse class="t" cx="645" cy="1005" rx="92" ry="122" transform="rotate(-8 645 1005)"/>
<ellipse class="t" cx="655" cy="1000" rx="70" ry="92" transform="rotate(-8 655 1000)"/>
<ellipse class="t" cx="660" cy="995" rx="50" ry="65" transform="rotate(-8 660 995)"/>
<ellipse class="t" cx="650" cy="1002" rx="82" ry="108" transform="rotate(-8 650 1002)"/><ellipse class="t" cx="657" cy="998" rx="60" ry="78" transform="rotate(-8 657 998)"/><ellipse class="t" cx="662" cy="996" rx="38" ry="48" transform="rotate(-8 662 996)"/>
<ellipse class="k" cx="660" cy="1000" rx="22" ry="26"/>
<!-- pulley 2 -->
<path class="k" d="M1080,808 L1195,800 C1255,800 1300,870 1300,950 C1298,1030 1260,1070 1215,1062 L1130,1090"/>
<ellipse class="k" cx="1125" cy="948" rx="100" ry="145" transform="rotate(-8 1125 948)"/>
<ellipse class="t" cx="1130" cy="945" rx="80" ry="118" transform="rotate(-8 1130 945)"/>
<ellipse class="t" cx="1145" cy="950" rx="55" ry="80" transform="rotate(-8 1145 950)"/>
<ellipse class="k" cx="1160" cy="962" rx="22" ry="26"/>
<ellipse class="t" cx="1132" cy="915" rx="10" ry="14"/><ellipse class="t" cx="1160" cy="900" rx="10" ry="14"/>
<!-- nuts & washers -->
<path class="k" d="M225,1060 L255,1040 L300,1042 L330,1075 L330,1120 L300,1150 L255,1152 L225,1120 Z"/>
<path class="t" d="M255,1040 L270,1075 L275,1125 L255,1152 M270,1075 L330,1075"/>
<ellipse class="k" cx="250" cy="1100" rx="20" ry="30"/><ellipse class="t" cx="252" cy="1100" rx="10" ry="18"/>
<ellipse class="k" cx="405" cy="1070" rx="45" ry="60"/><ellipse class="k" cx="405" cy="1072" rx="15" ry="20"/>
<path class="t" d="M335,1085 L390,1070"/>
<path class="k" d="M400,1270 L430,1250 L475,1252 L505,1285 L505,1330 L475,1360 L430,1362 L400,1330 Z"/>
<path class="t" d="M430,1250 L445,1285 L450,1335 L430,1362 M445,1285 L505,1285"/>
<ellipse class="k" cx="425" cy="1310" rx="20" ry="30"/><ellipse class="t" cx="427" cy="1310" rx="10" ry="18"/>
<ellipse class="k" cx="580" cy="1275" rx="45" ry="60"/><ellipse class="k" cx="580" cy="1277" rx="15" ry="20"/>
<path class="t" d="M510,1292 L565,1278"/>
<!-- leaders -->
<path class="k" style="stroke-width:2.3" d="M90,875 L245,1052 M290,800 L395,1012 M480,715 L605,870 M620,1325 L695,1390 M490,1360 L530,1435 M1300,995 L1525,1025 M1080,1335 L1292,1245 M275,1540 L460,1623 M1420,190 L1480,540 M1430,195 L1808,742 M1610,1300 L1570,1430"/>
<!-- belt strip -->
<path class="k" d="M940,1112 L973,1469 L1000,1462 L1020,1470 L1040,1462 L1078,1452 L1075,1420 M940,1112 L1000,1095 L1020,1090 L1035,1098 L1055,1092 L1058,1122"/>
<path class="t" d="M968,1116 L998,1466"/>
<path class="k" d="M956,1148 L1048,1124 L1051,1150 L959,1174 M961,1198 L1053,1174 L1056,1200 L964,1224 M965,1248 L1057,1224 L1060,1250 L968,1274 M970,1298 L1062,1274 L1065,1300 L973,1324 M974,1348 L1066,1324 L1069,1350 L977,1374 M979,1398 L1071,1374 L1074,1400 L982,1424 M983,1448 L1075,1424 L1078,1450 L986,1474"/>
</g>
<!-- D: camshaft region [1320,500,1980,850] scale 3.479 -->
<g transform="translate(1320,500) scale(0.28746)">

<path class="t" style="stroke-width:1.8" d="M368.7,568.5 A43,58 0 1,1 339.3,568.5 L342.7,578.8 M365.3,578.8 A33,47 0 1,1 342.7,578.8 M368.7,568.5 L365.3,578.8" transform="rotate(-8 354 623)"/>
<path class="k" d="M372,580 L452,540"/>
<path class="k" d="M375,690 L405,830 M392,800 L406,838 L415,798"/>
<path class="k" d="M285,775 L355,765 C360,790 345,815 320,815 C300,815 285,800 285,775 Z M300,782 L350,776"/>
<path class="k" d="M420,740 L500,730 C505,760 490,780 462,780 C440,780 420,765 420,740 Z M435,748 L495,742"/>
<path class="k" d="M1115,595 L1195,585 C1198,615 1185,635 1158,635 C1135,635 1115,620 1115,595 Z M1130,602 L1188,596"/>
<path class="k" style="stroke-width:2.3" d="M120,735 C200,760 250,770 285,778 M760,385 L480,735 M760,385 L1125,590 M95,700 L95,750 M790,900 L812,985"/>

<path class="d" d="M1305,715 L1700,630"/>
<!-- camshaft -->
<ellipse class="k" cx="132" cy="982" rx="18" ry="40" transform="rotate(-13 132 982)"/>
<path class="k" d="M132,942 L190,928 M140,1020 L200,1008"/>
<path class="t" d="M150,940 L158,1015 M163,937 L171,1012 M176,934 L184,1009 M189,931 L197,1006"/>
<path class="k" d="M180,910 L430,850 M195,1020 L440,975 M180,910 C165,930 170,1000 195,1020"/>
<path class="t" d="M255,918 L295,908 L298,922 L258,932 Z M350,896 L408,882 L410,896 L352,910 Z"/>
<path class="k" d="M420,845 L610,795 C640,800 655,880 640,925 L450,980 C420,970 410,860 420,845"/>
<path class="t" d="M440,845 C470,860 480,960 455,978 M490,830 C520,850 530,950 505,968 M540,815 C570,835 580,935 555,955 M580,805 C615,830 620,910 600,935"/>
<path class="k" d="M630,800 L950,738 M648,928 L968,870"/>
<path class="k" d="M950,730 C930,745 935,840 965,870 L1030,860 C1050,840 1050,740 1030,708 L975,712 C955,715 950,722 950,730"/>
<path class="t" d="M980,712 C1000,730 1005,840 990,865 M1030,712 C1050,735 1055,835 1040,858"/>
<path class="k" d="M1040,715 L1100,700 L1110,795 L1048,812 M1100,700 C1115,715 1120,780 1108,798"/>
<path class="t" d="M1095,712 L1140,702 M1100,735 L1140,728"/>
<path class="k" d="M1140,702 L1220,705 L1225,780 L1150,795 C1130,770 1130,720 1140,702"/>
<path class="t" d="M1160,700 L1168,790 M1175,698 L1182,786 M1190,698 L1197,783 M1205,700 L1210,780"/>
<path class="k" d="M1220,710 L1262,700 C1285,705 1285,750 1268,760 L1225,770"/>
<ellipse class="t" cx="1265" cy="730" rx="14" ry="30" transform="rotate(-13 1265 730)"/>
<!-- small gear -->

<path class="k" d="M1368.9,363.0 L1379.0,375.8 L1376.7,386.8 L1362.7,392.6 L1359.7,402.2 L1366.8,418.6 L1362.6,428.6 L1348.4,429.3 L1343.8,437.7 L1347.5,456.5 L1341.7,464.9 L1328.2,460.4 L1322.4,467.0 L1322.4,487.1 L1315.3,493.3 L1303.5,483.8 L1296.8,488.3 L1293.1,508.1 L1285.4,511.8 L1276.0,498.0 L1268.9,500.0 L1261.7,518.3 L1253.8,519.0 L1247.5,501.9 L1240.5,501.3 L1230.3,516.9 L1222.8,514.7 L1220.0,495.4 L1213.5,492.2 L1201.1,503.9 L1194.4,499.0 L1195.4,478.8 L1189.9,473.2 L1176.1,480.3 L1170.7,473.0 L1175.3,453.3 L1171.1,445.8 L1156.9,447.7 L1153.2,438.4 L1161.1,420.7 L1158.6,411.6 L1144.8,408.4 L1143.1,397.8 L1153.8,383.0 L1153.1,373.2 L1140.8,364.8 L1141.1,353.7 L1153.9,343.0 L1155.1,333.0 L1145.0,320.2 L1147.3,309.2 L1161.3,303.4 L1164.3,293.8 L1157.2,277.4 L1161.4,267.4 L1175.6,266.7 L1180.2,258.3 L1176.5,239.5 L1182.3,231.1 L1195.8,235.6 L1201.6,229.0 L1201.6,208.9 L1208.7,202.7 L1220.5,212.2 L1227.2,207.7 L1230.9,187.9 L1238.6,184.2 L1248.0,198.0 L1255.1,196.0 L1262.3,177.7 L1270.2,177.0 L1276.5,194.1 L1283.5,194.7 L1293.7,179.1 L1301.2,181.3 L1304.0,200.6 L1310.5,203.8 L1322.9,192.1 L1329.6,197.0 L1328.6,217.2 L1334.1,222.8 L1347.9,215.7 L1353.3,223.0 L1348.7,242.7 L1352.9,250.2 L1367.1,248.3 L1370.8,257.6 L1362.9,275.3 L1365.4,284.4 L1379.2,287.6 L1380.9,298.2 L1370.2,313.0 L1370.9,322.8 L1383.2,331.2 L1382.9,342.3 L1370.1,353.0 Z"/>
<path class="t" d="M1379.0,375.8 l78.0,-12.0 M1376.7,386.8 l78.0,-12.0 M1366.8,418.6 l78.0,-12.0 M1362.6,428.6 l78.0,-12.0 M1347.5,456.5 l78.0,-12.0 M1341.7,464.9 l78.0,-12.0 M1322.4,487.1 l78.0,-12.0 M1315.3,493.3 l78.0,-12.0 M1293.1,508.1 l78.0,-12.0 M1238.6,184.2 l78.0,-12.0 M1262.3,177.7 l78.0,-12.0 M1270.2,177.0 l78.0,-12.0 M1293.7,179.1 l78.0,-12.0 M1301.2,181.3 l78.0,-12.0 M1322.9,192.1 l78.0,-12.0 M1329.6,197.0 l78.0,-12.0 M1347.9,215.7 l78.0,-12.0 M1353.3,223.0 l78.0,-12.0 M1367.1,248.3 l78.0,-12.0 M1370.8,257.6 l78.0,-12.0 M1379.2,287.6 l78.0,-12.0 M1380.9,298.2 l78.0,-12.0 M1383.2,331.2 l78.0,-12.0 M1382.9,342.3 l78.0,-12.0"/>
<path class="k" d="M1446.9,351.0 L1457.0,363.8 L1454.7,374.8 L1440.7,380.6 L1437.7,390.2 L1444.8,406.6 L1440.6,416.6 L1426.4,417.3 L1421.8,425.7 L1425.5,444.5 L1419.7,452.9 L1406.2,448.4 L1400.4,455.0 L1400.4,475.1 L1393.3,481.3 L1381.5,471.8 L1374.8,476.3 L1371.1,496.1 M1316.6,172.2 L1326.0,186.0 L1333.1,184.0 L1340.3,165.7 L1348.2,165.0 L1354.5,182.1 L1361.5,182.7 L1371.7,167.1 L1379.2,169.3 L1382.0,188.6 L1388.5,191.8 L1400.9,180.1 L1407.6,185.0 L1406.6,205.2 L1412.1,210.8 L1425.9,203.7 L1431.3,211.0 L1426.7,230.7 L1430.9,238.2 L1445.1,236.3 L1448.8,245.6 L1440.9,263.3 L1443.4,272.4 L1457.2,275.6 L1458.9,286.2 L1448.2,301.0 L1448.9,310.8 L1461.2,319.2 L1460.9,330.3 L1448.1,341.0 L1446.9,351.0"/>

<ellipse class="k" style="fill:#fff" cx="1231" cy="356" rx="100" ry="140" transform="rotate(8 1231 356)"/>
<ellipse class="t" cx="1240" cy="352" rx="85" ry="128" transform="rotate(8 1240 352)"/>
<ellipse class="k" cx="1225" cy="358" rx="48" ry="77" transform="rotate(8 1225 358)"/>
<path class="t" d="M1240,283 C1275,300 1285,400 1255,435 M1222,290 C1258,312 1265,410 1240,432"/>
<path class="k" style="stroke-width:2.3" d="M1400,210 L1600,22 M1610,22 L1705,305"/>

<path class="k" d="M1907.7,616.8 L1926.0,622.2 L1926.4,642.2 L1908.3,646.6 L1907.6,664.8 L1925.2,674.6 L1923.3,694.2 L1904.8,694.1 L1902.2,711.7 L1918.6,725.6 L1914.6,744.4 L1896.2,739.8 L1891.6,756.4 L1906.4,774.0 L1900.3,791.4 L1882.6,782.3 L1876.2,797.5 L1888.9,818.4 L1881.0,833.9 L1864.4,820.7 L1856.4,833.9 L1866.7,857.5 L1857.2,870.8 L1842.1,853.7 L1832.7,864.7 L1840.4,890.4 L1829.4,901.0 L1816.3,880.6 L1805.8,889.0 L1810.6,916.0 L1798.5,923.8 L1787.7,900.5 L1776.3,906.2 L1778.1,933.8 L1765.3,938.4 L1757.2,913.0 L1745.2,915.7 L1743.9,943.2 L1730.6,944.6 L1725.4,917.7 L1713.2,917.4 L1708.9,944.0 L1695.6,942.1 L1693.3,914.5 L1681.2,911.2 L1674.0,936.2 L1661.0,931.0 L1661.8,903.4 L1650.1,897.2 L1640.2,919.9 L1627.9,911.6 L1631.7,884.8 L1620.8,875.8 L1608.5,895.6 L1597.1,884.4 L1603.8,859.1 L1594.0,847.7 L1579.6,864.0 L1569.5,850.2 L1579.0,827.1 L1570.5,813.5 L1554.3,825.9 L1545.9,810.0 L1557.8,789.7 L1550.9,774.2 L1533.5,782.4 L1526.8,764.7 L1540.9,747.8 L1535.7,731.0 L1517.5,734.7 L1512.9,715.7 L1528.8,702.6 L1525.4,684.8 L1506.9,684.0 L1504.4,664.3 L1521.6,655.4 L1520.3,637.2 L1502.0,631.8 L1501.6,611.8 L1519.7,607.4 L1520.4,589.2 L1502.8,579.4 L1504.7,559.8 L1523.2,559.9 L1525.8,542.3 L1509.4,528.4 L1513.4,509.6 L1531.8,514.2 L1536.4,497.6 L1521.6,480.0 L1527.7,462.6 L1545.4,471.7 L1551.8,456.5 L1539.1,435.6 L1547.0,420.1 L1563.6,433.3 L1571.6,420.1 L1561.3,396.5 L1570.8,383.2 L1585.9,400.3 L1595.3,389.3 L1587.6,363.6 L1598.6,353.0 L1611.7,373.4 L1622.2,365.0 L1617.4,338.0 L1629.5,330.2 L1640.3,353.5 L1651.7,347.8 L1649.9,320.2 L1662.7,315.6 L1670.8,341.0 L1682.8,338.3 L1684.1,310.8 L1697.4,309.4 L1702.6,336.3 L1714.8,336.6 L1719.1,310.0 L1732.4,311.9 L1734.7,339.5 L1746.8,342.8 L1754.0,317.8 L1767.0,323.0 L1766.2,350.6 L1777.9,356.8 L1787.8,334.1 L1800.1,342.4 L1796.3,369.2 L1807.2,378.2 L1819.5,358.4 L1830.9,369.6 L1824.2,394.9 L1834.0,406.3 L1848.4,390.0 L1858.5,403.8 L1849.0,426.9 L1857.5,440.5 L1873.7,428.1 L1882.1,444.0 L1870.2,464.3 L1877.1,479.8 L1894.5,471.6 L1901.2,489.3 L1887.1,506.2 L1892.3,523.0 L1910.5,519.3 L1915.1,538.3 L1899.2,551.4 L1902.6,569.2 L1921.1,570.0 L1923.6,589.7 L1906.4,598.6 Z"/>
<path class="t" d="M1926.0,622.2 l68.0,-8.0 M1926.4,642.2 l68.0,-8.0 M1925.2,674.6 l68.0,-8.0 M1923.3,694.2 l68.0,-8.0 M1918.6,725.6 l68.0,-8.0 M1914.6,744.4 l68.0,-8.0 M1906.4,774.0 l68.0,-8.0 M1900.3,791.4 l68.0,-8.0 M1888.9,818.4 l68.0,-8.0 M1881.0,833.9 l68.0,-8.0 M1866.7,857.5 l68.0,-8.0 M1857.2,870.8 l68.0,-8.0 M1840.4,890.4 l68.0,-8.0 M1829.4,901.0 l68.0,-8.0 M1810.6,916.0 l68.0,-8.0 M1798.5,923.8 l68.0,-8.0 M1778.1,933.8 l68.0,-8.0 M1765.3,938.4 l68.0,-8.0 M1684.1,310.8 l68.0,-8.0 M1697.4,309.4 l68.0,-8.0 M1719.1,310.0 l68.0,-8.0 M1732.4,311.9 l68.0,-8.0 M1754.0,317.8 l68.0,-8.0 M1767.0,323.0 l68.0,-8.0 M1787.8,334.1 l68.0,-8.0 M1800.1,342.4 l68.0,-8.0 M1819.5,358.4 l68.0,-8.0 M1830.9,369.6 l68.0,-8.0 M1848.4,390.0 l68.0,-8.0 M1858.5,403.8 l68.0,-8.0 M1873.7,428.1 l68.0,-8.0 M1882.1,444.0 l68.0,-8.0 M1894.5,471.6 l68.0,-8.0 M1901.2,489.3 l68.0,-8.0 M1910.5,519.3 l68.0,-8.0 M1915.1,538.3 l68.0,-8.0 M1921.1,570.0 l68.0,-8.0 M1923.6,589.7 l68.0,-8.0"/>
<path class="k" d="M1975.7,608.8 L1994.0,614.2 L1994.4,634.2 L1976.3,638.6 L1975.6,656.8 L1993.2,666.6 L1991.3,686.2 L1972.8,686.1 L1970.2,703.7 L1986.6,717.6 L1982.6,736.4 L1964.2,731.8 L1959.6,748.4 L1974.4,766.0 L1968.3,783.4 L1950.6,774.3 L1944.2,789.5 L1956.9,810.4 L1949.0,825.9 L1932.4,812.7 L1924.4,825.9 L1934.7,849.5 L1925.2,862.8 L1910.1,845.7 L1900.7,856.7 L1908.4,882.4 L1897.4,893.0 L1884.3,872.6 L1873.8,881.0 L1878.6,908.0 L1866.5,915.8 L1855.7,892.5 L1844.3,898.2 L1846.1,925.8 L1833.3,930.4 L1825.2,905.0 M1750.8,330.3 L1752.1,302.8 L1765.4,301.4 L1770.6,328.3 L1782.8,328.6 L1787.1,302.0 L1800.4,303.9 L1802.7,331.5 L1814.8,334.8 L1822.0,309.8 L1835.0,315.0 L1834.2,342.6 L1845.9,348.8 L1855.8,326.1 L1868.1,334.4 L1864.3,361.2 L1875.2,370.2 L1887.5,350.4 L1898.9,361.6 L1892.2,386.9 L1902.0,398.3 L1916.4,382.0 L1926.5,395.8 L1917.0,418.9 L1925.5,432.5 L1941.7,420.1 L1950.1,436.0 L1938.2,456.3 L1945.1,471.8 L1962.5,463.6 L1969.2,481.3 L1955.1,498.2 L1960.3,515.0 L1978.5,511.3 L1983.1,530.3 L1967.2,543.4 L1970.6,561.2 L1989.1,562.0 L1991.6,581.7 L1974.4,590.6 L1975.7,608.8"/>

<ellipse class="k" cx="1711" cy="625" rx="177" ry="265" transform="rotate(-3 1711 625)"/>
<ellipse class="t" cx="1718" cy="622" rx="162" ry="248" transform="rotate(-3 1718 622)"/>
<ellipse class="t" cx="1624" cy="481" rx="38" ry="58"/>
<path class="k" d="M1629,425 C1654,451 1656,506 1636,537"/>
<ellipse class="t" cx="1727" cy="439" rx="38" ry="58"/>
<path class="k" d="M1732,383 C1757,409 1759,464 1739,495"/>
<ellipse class="t" cx="1836" cy="549" rx="38" ry="58"/>
<path class="k" d="M1841,493 C1866,519 1868,574 1848,605"/>
<ellipse class="t" cx="1836" cy="732" rx="38" ry="58"/>
<path class="k" d="M1841,676 C1866,702 1868,757 1848,788"/>
<ellipse class="t" cx="1714" cy="790" rx="38" ry="58"/>
<path class="k" d="M1719,734 C1744,760 1746,815 1726,846"/>
<ellipse class="t" cx="1604" cy="668" rx="38" ry="58"/>
<path class="k" d="M1609,612 C1634,638 1636,693 1616,724"/>
<path class="t" d="M1681,540 L1770,528 C1805,560 1812,700 1790,720 L1681,732 M1695,538 L1780,530 C1812,565 1818,700 1798,718"/>
<ellipse class="k" style="fill:#fff" cx="1681" cy="636" rx="61" ry="96"/>
<path class="k" d="M1678,580 L1690,575 L1696,588 C1715,605 1718,665 1695,685 C1672,695 1658,665 1660,628 C1662,598 1668,585 1678,580 Z"/>
<path class="d" d="M1515,700 L1690,645"/>


<!-- washer nut -->
<ellipse class="k" cx="2042" cy="548" rx="55" ry="80" transform="rotate(10 2042 548)"/>
<ellipse class="t" cx="2035" cy="548" rx="45" ry="70" transform="rotate(10 2035 548)"/>
<ellipse class="k" cx="2030" cy="550" rx="24" ry="45" transform="rotate(10 2030 550)"/>
<path class="t" d="M1985,570 L2060,545 M2090,535 L2150,520"/>
<path class="k" d="M2110,490 L2140,460 L2185,455 L2225,490 L2230,545 L2200,585 L2155,590 L2115,560 Z"/>
<path class="t" d="M2140,460 L2155,505 L2152,560 L2155,590 M2155,505 L2225,490"/>
<ellipse class="k" cx="2150" cy="525" rx="22" ry="35"/>
<path class="k" style="stroke-width:2.3" d="M2012,330 L2045,470 M2135,290 L2152,452 M2170,225 L2170,245"/>

</g><!-- E1 [540,880,960,1300] -->
<g transform="translate(540,880) scale(0.25878)">

<path class="k" d="M150,560 C150,520 180,505 215,510 L235,515 C265,540 275,600 265,640 C255,670 230,685 200,680 C170,675 150,640 150,600 Z"/>
<path class="t" d="M160,580 L148,582 M180,515 L178,505 M240,520 L238,510 M265,575 L275,572 M260,645 L270,650 M200,680 L198,690"/>
<ellipse class="k" cx="205" cy="595" rx="33" ry="50" transform="rotate(-10 205 595)"/>
<ellipse class="t" cx="208" cy="595" rx="22" ry="38" transform="rotate(-10 208 595)"/>
<path class="t" d="M262,582 L360,555"/>
<ellipse class="k" cx="355" cy="555" rx="62" ry="90" transform="rotate(-8 355 555)"/>
<path class="k" d="M355,465 C410,460 440,510 435,565 C430,620 400,650 370,645"/>
<ellipse class="k" cx="350" cy="555" rx="28" ry="50" transform="rotate(-8 350 555)"/><path class="t" d="M330,520 C320,560 325,600 340,620"/>
<path class="k" style="stroke-width:2.3" d="M30,320 L190,515 M220,265 L320,470 M475,205 L520,325 M250,162 L250,210 M815,70 L1240,265 M1530,278 L1623,255"/>
<path class="d" d="M505,515 L615,490 M795,455 L1060,395 M1225,355 L1380,320"/>

<path class="k" d="M639.2,512.8 L643.6,522.8 L641.9,532.0 L634.5,538.6 L632.4,547.0 L635.3,558.8 L632.6,567.4 L624.8,571.3 L621.9,579.1 L623.2,592.2 L619.7,599.9 L611.8,601.0 L608.1,607.8 L607.8,621.5 L603.5,628.1 L596.0,626.2 L591.7,631.7 L589.8,645.6 L585.0,650.6 L578.2,645.9 L573.4,649.9 L570.0,663.2 L564.8,666.6 L559.0,659.3 L554.0,661.5 L549.2,673.8 L543.9,675.3 L539.3,665.7 L534.4,666.1 L528.3,676.7 L523.2,676.3 L520.0,664.8 L515.3,663.4 L508.4,672.0 L503.6,669.6 L501.9,656.7 L497.7,653.6 L490.1,659.7 L485.9,655.5 L485.8,641.8 L482.2,637.1 L474.4,640.4 L470.9,634.6 L472.5,620.7 L469.7,614.6 L461.9,615.0 L459.3,607.8 L462.5,594.3 L460.5,587.0 L453.1,584.6 L451.6,576.3 L456.1,563.8 L455.2,555.7 L448.5,550.4 L448.0,541.5 L453.9,530.5 L453.9,521.9 L448.3,514.1 L448.9,504.9 L455.7,495.9 L456.8,487.2 L452.4,477.2 L454.1,468.0 L461.5,461.4 L463.6,453.0 L460.7,441.2 L463.4,432.6 L471.2,428.7 L474.1,420.9 L472.8,407.8 L476.3,400.1 L484.2,399.0 L487.9,392.2 L488.2,378.5 L492.5,371.9 L500.0,373.8 L504.3,368.3 L506.2,354.4 L511.0,349.4 L517.8,354.1 L522.6,350.1 L526.0,336.8 L531.2,333.4 L537.0,340.7 L542.0,338.5 L546.8,326.2 L552.1,324.7 L556.7,334.3 L561.6,333.9 L567.7,323.3 L572.8,323.7 L576.0,335.2 L580.7,336.6 L587.6,328.0 L592.4,330.4 L594.1,343.3 L598.3,346.4 L605.9,340.3 L610.1,344.5 L610.2,358.2 L613.8,362.9 L621.6,359.6 L625.1,365.4 L623.5,379.3 L626.3,385.4 L634.1,385.0 L636.7,392.2 L633.5,405.7 L635.5,413.0 L642.9,415.4 L644.4,423.7 L639.9,436.2 L640.8,444.3 L647.5,449.6 L648.0,458.5 L642.1,469.5 L642.1,478.1 L647.7,485.9 L647.1,495.1 L640.3,504.1 Z"/>
<path class="t" d="M643.6,522.8 l135.0,-14.0 M641.9,532.0 l135.0,-14.0 M635.3,558.8 l135.0,-14.0 M632.6,567.4 l135.0,-14.0 M623.2,592.2 l135.0,-14.0 M619.7,599.9 l135.0,-14.0 M607.8,621.5 l135.0,-14.0 M603.5,628.1 l135.0,-14.0 M589.8,645.6 l135.0,-14.0 M585.0,650.6 l135.0,-14.0 M570.0,663.2 l135.0,-14.0 M531.2,333.4 l135.0,-14.0 M546.8,326.2 l135.0,-14.0 M552.1,324.7 l135.0,-14.0 M567.7,323.3 l135.0,-14.0 M572.8,323.7 l135.0,-14.0 M587.6,328.0 l135.0,-14.0 M592.4,330.4 l135.0,-14.0 M605.9,340.3 l135.0,-14.0 M610.1,344.5 l135.0,-14.0 M621.6,359.6 l135.0,-14.0 M625.1,365.4 l135.0,-14.0 M634.1,385.0 l135.0,-14.0 M636.7,392.2 l135.0,-14.0 M642.9,415.4 l135.0,-14.0 M644.4,423.7 l135.0,-14.0 M647.5,449.6 l135.0,-14.0 M648.0,458.5 l135.0,-14.0 M647.7,485.9 l135.0,-14.0 M647.1,495.1 l135.0,-14.0"/>
<path class="k" d="M774.2,498.8 L778.6,508.8 L776.9,518.0 L769.5,524.6 L767.4,533.0 L770.3,544.8 L767.6,553.4 L759.8,557.3 L756.9,565.1 L758.2,578.2 L754.7,585.9 L746.8,587.0 L743.1,593.8 L742.8,607.5 L738.5,614.1 L731.0,612.2 L726.7,617.7 L724.8,631.6 L720.0,636.6 L713.2,631.9 L708.4,635.9 L705.0,649.2 M666.2,319.4 L672.0,326.7 L677.0,324.5 L681.8,312.2 L687.1,310.7 L691.7,320.3 L696.6,319.9 L702.7,309.3 L707.8,309.7 L711.0,321.2 L715.7,322.6 L722.6,314.0 L727.4,316.4 L729.1,329.3 L733.3,332.4 L740.9,326.3 L745.1,330.5 L745.2,344.2 L748.8,348.9 L756.6,345.6 L760.1,351.4 L758.5,365.3 L761.3,371.4 L769.1,371.0 L771.7,378.2 L768.5,391.7 L770.5,399.0 L777.9,401.4 L779.4,409.7 L774.9,422.2 L775.8,430.3 L782.5,435.6 L783.0,444.5 L777.1,455.5 L777.1,464.1 L782.7,471.9 L782.1,481.1 L775.3,490.1 L774.2,498.8"/>

<ellipse class="k" cx="558" cy="500" rx="82" ry="135" transform="rotate(5 558 500)"/>
<path class="t" d="M540,380 C600,390 640,450 640,520 C640,580 610,630 560,630 M600,530 C620,520 640,500 640,480"/>
<ellipse class="t" cx="555" cy="453" rx="12" ry="18"/><ellipse class="t" cx="622" cy="582" rx="12" ry="18"/><ellipse class="t" cx="580" cy="410" rx="15" ry="22"/><ellipse class="t" cx="580" cy="530" rx="15" ry="25"/>
<!-- lower belt loop left part -->
<path class="d" d="M1240,405 C1150,340 1060,270 990,245 C900,230 830,290 812,370 C800,450 830,540 900,590 C980,640 1100,660 1250,700 L1620,820"/>
<path class="d" d="M1000,240 C940,250 900,320 900,400 C900,480 930,545 1000,585 C1060,610 1150,615 1250,610 L1623,600"/>
<path class="d" d="M1530,0 L1530,250 C1535,300 1560,350 1623,410 M1440,520 C1500,560 1560,580 1623,580"/>
<!-- flat washer -->
<ellipse class="k" cx="1385" cy="322" rx="140" ry="195" transform="rotate(-5 1385 322)"/>
<path class="k" d="M1380,128 C1460,125 1530,220 1530,320 C1530,420 1480,510 1410,512"/>
<path class="k" d="M1340,300 C1345,270 1360,258 1380,260 L1388,248 L1405,260 C1420,290 1420,350 1400,380 C1380,395 1355,385 1345,360 Z"/>
<path class="t" d="M1225,352 L1375,318"/>

</g>
<!-- E2 [920,880,1340,1300] -->
<g transform="translate(920,880) scale(0.25878)">
<path class="k" d="M634.0,168.0 L639.9,176.9 L639.5,185.8 L632.8,193.0 L631.9,201.2 L636.6,212.0 L635.1,220.5 L627.8,225.3 L625.9,233.0 L629.1,245.2 L626.6,253.0 L618.8,255.0 L616.0,261.9 L617.7,275.0 L614.3,281.8 L606.5,281.0 L602.9,286.8 L602.9,300.1 L598.8,305.5 L591.2,302.0 L587.0,306.4 L585.4,319.5 L580.7,323.3 L573.7,317.2 L569.0,320.0 L565.9,332.2 L560.8,334.3 L554.7,325.8 L549.8,326.9 L545.2,337.8 L540.0,338.0 L535.1,327.6 L530.2,326.9 L524.4,335.9 L519.2,334.3 L515.7,322.4 L511.0,320.0 L504.2,326.7 L499.3,323.3 L497.3,310.4 L493.0,306.4 L485.5,310.6 L481.2,305.5 L480.8,292.2 L477.1,286.8 L469.3,288.2 L465.7,281.8 L466.9,268.6 L464.0,261.9 L456.1,260.6 L453.4,253.0 L456.2,240.5 L454.1,233.0 L446.6,228.9 L444.9,220.5 L449.2,209.4 L448.1,201.2 L441.2,194.6 L440.5,185.8 L446.1,176.4 L446.0,168.0 L440.1,159.1 L440.5,150.2 L447.2,143.0 L448.1,134.8 L443.4,124.0 L444.9,115.5 L452.2,110.7 L454.1,103.0 L450.9,90.8 L453.4,83.0 L461.2,81.0 L464.0,74.1 L462.3,61.0 L465.7,54.2 L473.5,55.0 L477.1,49.2 L477.1,35.9 L481.2,30.5 L488.8,34.0 L493.0,29.6 L494.6,16.5 L499.3,12.7 L506.3,18.8 L511.0,16.0 L514.1,3.8 L519.2,1.7 L525.3,10.2 L530.2,9.1 L534.8,-1.8 L540.0,-2.0 L544.9,8.4 L549.8,9.1 L555.6,0.1 L560.8,1.7 L564.3,13.6 L569.0,16.0 L575.8,9.3 L580.7,12.7 L582.7,25.6 L587.0,29.6 L594.5,25.4 L598.8,30.5 L599.2,43.8 L602.9,49.2 L610.7,47.8 L614.3,54.2 L613.1,67.4 L616.0,74.1 L623.9,75.4 L626.6,83.0 L623.8,95.5 L625.9,103.0 L633.4,107.1 L635.1,115.5 L630.8,126.6 L631.9,134.8 L638.8,141.4 L639.5,150.2 L633.9,159.6 Z"/>
<path class="t" d="M639.9,176.9 l130.0,-25.0 M639.5,185.8 l130.0,-25.0 M636.6,212.0 l130.0,-25.0 M635.1,220.5 l130.0,-25.0 M629.1,245.2 l130.0,-25.0 M626.6,253.0 l130.0,-25.0 M617.7,275.0 l130.0,-25.0 M614.3,281.8 l130.0,-25.0 M602.9,300.1 l130.0,-25.0 M598.8,305.5 l130.0,-25.0 M585.4,319.5 l130.0,-25.0 M580.7,323.3 l130.0,-25.0 M514.1,3.8 l130.0,-25.0 M519.2,1.7 l130.0,-25.0 M534.8,-1.8 l130.0,-25.0 M540.0,-2.0 l130.0,-25.0 M555.6,0.1 l130.0,-25.0 M560.8,1.7 l130.0,-25.0 M575.8,9.3 l130.0,-25.0 M580.7,12.7 l130.0,-25.0 M594.5,25.4 l130.0,-25.0 M598.8,30.5 l130.0,-25.0 M610.7,47.8 l130.0,-25.0 M614.3,54.2 l130.0,-25.0 M623.9,75.4 l130.0,-25.0 M626.6,83.0 l130.0,-25.0 M633.4,107.1 l130.0,-25.0 M635.1,115.5 l130.0,-25.0 M638.8,141.4 l130.0,-25.0 M639.5,150.2 l130.0,-25.0"/>
<path class="k" d="M764.0,143.0 L769.9,151.9 L769.5,160.8 L762.8,168.0 L761.9,176.2 L766.6,187.0 L765.1,195.5 L757.8,200.3 L755.9,208.0 L759.1,220.2 L756.6,228.0 L748.8,230.0 L746.0,236.9 L747.7,250.0 L744.3,256.8 L736.5,256.0 L732.9,261.8 L732.9,275.1 L728.8,280.5 L721.2,277.0 L717.0,281.4 L715.4,294.5 L710.7,298.3 L703.7,292.2 M641.0,-9.0 L644.1,-21.2 L649.2,-23.3 L655.3,-14.8 L660.2,-15.9 L664.8,-26.8 L670.0,-27.0 L674.9,-16.6 L679.8,-15.9 L685.6,-24.9 L690.8,-23.3 L694.3,-11.4 L699.0,-9.0 L705.8,-15.7 L710.7,-12.3 L712.7,0.6 L717.0,4.6 L724.5,0.4 L728.8,5.5 L729.2,18.8 L732.9,24.2 L740.7,22.8 L744.3,29.2 L743.1,42.4 L746.0,49.1 L753.9,50.4 L756.6,58.0 L753.8,70.5 L755.9,78.0 L763.4,82.1 L765.1,90.5 L760.8,101.6 L761.9,109.8 L768.8,116.4 L769.5,125.2 L763.9,134.6 L764.0,143.0"/>

<ellipse class="k" cx="553" cy="170" rx="82" ry="125"/>
<ellipse class="k" cx="555" cy="170" rx="58" ry="85"/>
<ellipse class="t" cx="560" cy="170" rx="45" ry="62"/>
<path class="d" d="M420,198 L555,168 M785,110 L900,85"/>
<ellipse class="k" cx="958" cy="80" rx="78" ry="85" transform="rotate(-10 958 80)"/>
<path class="t" d="M915,10 C880,30 880,140 940,160"/>
<ellipse class="k" cx="940" cy="70" rx="30" ry="42"/>
<path class="t" d="M950,35 C970,55 970,100 955,110"/>
<!-- upper belt loop bottom -->
<path class="d" d="M55,0 L65,250 C75,340 130,420 210,420 C300,420 370,360 395,260 L350,0"/>
<path class="d" d="M155,0 L165,230 C175,320 220,390 285,398 C330,390 310,280 255,0"/>
<!-- lower belt loop -->
<path class="d" d="M0,550 C120,585 230,570 330,525 L720,410 C800,385 890,410 950,470 C1000,530 1015,620 1040,720 L1180,1230 C1200,1330 1215,1430 1190,1500 C1160,1560 1100,1580 1040,1575"/>
<path class="d" d="M0,600 C150,620 300,560 450,505 L790,395 C880,370 960,400 1000,470 C1030,540 1040,640 1070,780 L1125,1080 C1150,1250 1135,1420 1110,1500 C1090,1550 1060,1570 1010,1560"/>
<path class="d" d="M0,760 C60,790 130,820 200,840 M420,1010 C520,1070 600,1140 680,1220 M480,955 C580,1010 680,1100 780,1210"/>
<!-- middle pulley -->
<path class="k" d="M620,690 L720,655 C800,640 865,720 865,820 C865,900 820,945 770,935 L700,958"/>
<path class="t" d="M700,670 C780,665 840,740 845,820 C848,900 810,935 770,930"/>
<ellipse class="k" cx="655" cy="820" rx="100" ry="145" transform="rotate(-8 655 820)"/>
<ellipse class="t" cx="662" cy="815" rx="80" ry="118" transform="rotate(-8 662 815)"/>
<ellipse class="t" cx="672" cy="815" rx="60" ry="88" transform="rotate(-8 672 815)"/>
<ellipse class="t" cx="680" cy="815" rx="42" ry="60" transform="rotate(-8 680 815)"/>
<ellipse class="t" cx="667" cy="815" rx="70" ry="103" transform="rotate(-8 667 815)"/><ellipse class="t" cx="676" cy="815" rx="50" ry="73" transform="rotate(-8 676 815)"/><ellipse class="t" cx="683" cy="815" rx="30" ry="42" transform="rotate(-8 683 815)"/>
<ellipse class="k" cx="685" cy="815" rx="18" ry="22"/>
<path class="k" d="M280,880 L305,855 L345,852 L380,880 L390,925 L365,960 L320,965 L285,935 Z"/>
<path class="t" d="M305,855 L320,895 L320,945 M320,895 L385,888"/>
<ellipse class="k" cx="302" cy="910" rx="18" ry="28"/>
<ellipse class="k" cx="455" cy="872" rx="45" ry="60"/><ellipse class="k" cx="455" cy="875" rx="15" ry="20"/>
<path class="t" d="M390,895 L440,880"/>
<path class="d" d="M510,860 L690,815 M865,765 L1240,655"/>
<path class="k" style="stroke-width:2.3" d="M230,785 L300,860 M385,740 L445,810 M530,680 L575,715 M1380,360 L1430,510 M1580,560 L1623,545 M1550,1105 L1585,1240"/>


<path class="d" d="M1175,1120 L1320,1085 M590,1285 L1030,1165"/>
<!-- lower pulley -->
<path class="k" d="M380,1175 L470,1160 C540,1150 585,1220 585,1300 C585,1380 545,1420 500,1412 L430,1450"/>
<ellipse class="k" cx="415" cy="1310" rx="112" ry="150" transform="rotate(-8 415 1310)"/>
<ellipse class="t" cx="420" cy="1305" rx="92" ry="125" transform="rotate(-8 420 1305)"/>
<ellipse class="t" cx="430" cy="1305" rx="65" ry="92" transform="rotate(-8 430 1305)"/>
<ellipse class="t" cx="438" cy="1305" rx="48" ry="70" transform="rotate(-8 438 1305)"/>
<ellipse class="k" cx="445" cy="1325" rx="22" ry="28"/>
<ellipse class="t" cx="410" cy="1285" rx="10" ry="14"/><ellipse class="t" cx="437" cy="1262" rx="10" ry="14"/>
<path class="k" d="M0,1395 L30,1370 L75,1372 L105,1400 L110,1450 L85,1480 L40,1485 L5,1455 Z"/>
<path class="t" d="M30,1370 L45,1410 L45,1465 M45,1410 L108,1405"/>
<ellipse class="k" cx="25" cy="1435" rx="18" ry="28"/>
<ellipse class="k" cx="180" cy="1395" rx="45" ry="60"/><ellipse class="k" cx="180" cy="1398" rx="15" ry="20"/>
<path class="t" d="M110,1415 L165,1400 M235,1385 L420,1330"/>
<!-- belt strip diagonal -->
<path class="k" d="M700,1258 L720,1225 L760,1222 L840,1235 L850,1265 L890,1290 L895,1320 L930,1340 L935,1370 L970,1390 L975,1420 L1010,1440 L1015,1470 L1050,1490 L1075,1510 L960,1545 L940,1530 Z"/>
<path class="t" d="M720,1270 L840,1240 M745,1300 L880,1280 M775,1335 L915,1315 M805,1370 L950,1350 M835,1405 L990,1385 M865,1440 L1030,1420 M895,1475 L1060,1460 M925,1510 L1065,1495 M740,1285 L955,1540"/>
<path class="k" style="stroke-width:2.3" d="M60,1490 L45,1623 M200,1440 L235,1623 M450,1455 L495,1623 M860,1455 L830,1623"/>

</g><!-- F [1340,860,1760,1280] -->
<g class="thin" transform="translate(1340,860) scale(0.25878)">
<path class="d" d="M0,632 L350,538 M0,1070 L85,1048 L100,1000 L350,925"/>
<!-- top flange -->
<path class="k" d="M735,150 C738,132 755,128 778,132 L1025,55 C1040,42 1085,40 1102,62 L1112,82 L1300,170 C1330,182 1328,215 1300,222 L1100,340 L910,350 C890,360 870,340 862,320 L815,340 L760,370"/>
<ellipse class="k" cx="1028" cy="212" rx="145" ry="82" transform="rotate(-15 1028 212)"/>
<ellipse class="t" cx="1090" cy="185" rx="8" ry="14" transform="rotate(-20 1090 185)"/>
<ellipse class="t" cx="790" cy="160" rx="14" ry="10"/><ellipse class="t" cx="1065" cy="72" rx="14" ry="10"/><ellipse class="t" cx="1275" cy="190" rx="14" ry="10"/><ellipse class="t" cx="885" cy="320" rx="14" ry="10"/>
<path class="t" d="M750,165 L830,215 L860,280 L840,330 M800,225 L790,300 M1100,330 L1300,225 M1090,340 L1330,220"/>
<path class="t" d="M735,150 L740,370 M760,195 L770,380 M470,360 L560,300 L600,240 L670,210 L720,230 L730,300 L660,320 L600,300 M600,240 L600,295 M660,225 L660,310 M720,230 L700,320"/>
<ellipse class="t" cx="660" cy="220" rx="10" ry="6"/>
<path class="t" d="M450,360 L500,330 M470,370 L515,345 M640,415 C650,390 700,370 740,370 L880,350 L910,380"/>
<!-- rail -->
<path class="k" d="M640,420 C645,395 680,385 700,395 L1440,158 C1480,160 1505,190 1505,230 L1500,245 L745,590"/>
<path class="k" d="M650,430 C640,470 645,540 690,570 L745,590 M700,395 C730,410 745,460 745,590"/>
<ellipse class="k" cx="695" cy="492" rx="28" ry="42"/>
<path class="t" d="M750,520 L1490,230 M1100,340 L1440,195 M745,600 L1470,340"/>
<!-- right side -->
<path class="k" d="M1505,240 L1470,350 L1420,1180 C1410,1230 1380,1260 1330,1270 L650,1445 L590,1420"/>
<path class="t" d="M1460,360 L1410,1170 M1250,1280 L1260,1320 L1210,1330 L1150,1310 M850,1420 L845,1450 L780,1470 L730,1445"/>
<!-- left side -->
<path class="k" d="M205,358 C210,320 260,302 320,312 C400,330 470,400 510,470 L560,490 L600,490 L640,420"/>
<path class="t" d="M210,340 C280,330 350,380 400,440 L430,470 L470,480 L500,510 L600,520 L620,490 M310,390 L320,450"/>
<path class="k" d="M300,575 C288,700 282,880 305,1010 M205,1065 L240,1040 L370,1005 M205,1065 C220,1090 280,1140 320,1160 C330,1180 360,1210 380,1210 L545,1380 L590,1420"/>
<path class="t" d="M330,1150 a14,20 0 1,0 1,0"/>
<path class="t" d="M355,610 L445,605 M370,635 L400,660 M395,860 L480,800 M300,820 L340,830 M380,1000 L500,1040 M520,1170 L650,1050 M540,1100 L560,1000 M540,600 L560,700 M625,580 L640,660 M420,570 L500,580"/>
<!-- bores -->
<ellipse class="k" cx="322" cy="545" rx="58" ry="88" transform="rotate(-10 322 545)"/>
<ellipse class="t" cx="318" cy="548" rx="40" ry="66" transform="rotate(-10 318 548)"/>
<ellipse class="t" cx="312" cy="550" rx="30" ry="56" transform="rotate(-10 312 550)"/>
<ellipse class="k" cx="322" cy="925" rx="58" ry="88" transform="rotate(-10 322 925)"/>
<ellipse class="t" cx="318" cy="928" rx="40" ry="66" transform="rotate(-10 318 928)"/>
<ellipse class="t" cx="312" cy="930" rx="30" ry="56" transform="rotate(-10 312 930)"/>
<ellipse class="k" cx="490" cy="718" rx="45" ry="70" transform="rotate(-10 490 718)"/>
<ellipse class="t" cx="487" cy="720" rx="32" ry="54" transform="rotate(-10 487 720)"/>
<path class="k" d="M505,860 C525,855 540,870 530,905 C520,890 505,880 505,860 Z"/>
<ellipse class="k" cx="595" cy="595" rx="22" ry="30" transform="rotate(10 595 595)"/>
<path class="t" d="M640,600 C650,620 650,640 640,650"/>
</g>
<!-- FI: head interior [1390,980,1720,1230] scale 6.491 -->
<g class="thin" transform="translate(1390,980) scale(0.15406)">
<path class="k" d="M730,605 C770,610 800,650 790,700 C780,740 790,780 800,800 C820,840 810,880 790,900 C800,930 790,960 760,985 C720,1000 660,980 640,930 C620,860 640,800 660,760 C640,690 650,630 690,610 Z"/>
<ellipse class="k" cx="720" cy="700" rx="38" ry="58"/><ellipse class="t" cx="728" cy="702" rx="25" ry="45"/>
<ellipse class="k" cx="690" cy="880" rx="38" ry="58"/><ellipse class="t" cx="698" cy="882" rx="25" ry="45"/>
<path class="t" d="M780,592 L880,562 M792,700 L880,672 M780,975 L840,960"/>
<!-- journal L1 -->
<path class="k" d="M860,400 C820,450 820,600 900,690 L930,700 M1000,395 L1160,390 C1180,460 1200,540 1232,572 L1236,625 L1030,680"/>
<path class="t" d="M900,390 C860,450 860,600 932,682 M935,385 C900,450 900,600 965,672 M990,395 C960,450 960,590 1020,652 M940,280 L975,265 L980,380 M1050,382 L1250,327 L1255,262 L1272,252"/>
<!-- journal L2 -->
<path class="k" d="M800,1140 C760,1200 760,1380 840,1470 L870,1480 M960,1150 L1110,1140 C1130,1230 1150,1300 1182,1345 L980,1402"/>
<path class="t" d="M860,1135 C820,1200 820,1370 882,1442 M900,1130 C860,1200 860,1360 932,1422 M950,1150 C920,1200 920,1340 980,1402 M1010,1160 L1200,1107 L1195,1022 M880,1130 L1000,1130 M790,1360 C770,1400 790,1460 830,1480"/>
<!-- journal R1 -->
<path class="k" d="M1850,130 C1810,160 1780,150 1770,130 C1760,180 1760,300 1800,360 L1850,352 L2050,292 L2060,87 L1850,130 M1760,60 C1710,130 1710,300 1780,400 L1850,430 L1870,382"/>
<path class="t" d="M2000,110 C2040,150 2050,240 2030,290 M2012,100 C2062,140 2072,250 2042,295 M1760,60 L1890,30"/>
<!-- journal R2 -->
<path class="k" d="M1795,880 C1755,910 1725,900 1715,880 C1705,930 1705,1050 1745,1110 L1795,1102 L1995,1042 L2005,837 L1795,880 M1705,810 C1655,880 1655,1050 1725,1150 L1795,1180 L1815,1132"/>
<path class="t" d="M1945,860 C1985,900 1995,990 1975,1040 M1957,850 C2007,890 2017,1000 1987,1045 M1705,810 L1820,790 L1850,650"/>
<!-- center plug -->
<path class="k" d="M1360,640 C1380,580 1450,540 1530,540 C1600,540 1650,600 1650,680 L1640,780 C1630,830 1600,860 1610,890 C1620,950 1580,970 1540,965 C1490,960 1480,920 1470,900 L1400,880 C1350,850 1340,780 1350,720 Z"/>
<ellipse class="k" cx="1510" cy="715" rx="88" ry="108" transform="rotate(-10 1510 715)"/>
<ellipse class="t" cx="1555" cy="890" rx="28" ry="35"/>
<!-- walls -->
<path class="k" d="M915,190 C905,300 910,380 930,400 M930,700 C915,780 900,900 890,1000 C880,1050 860,1100 870,1120 M880,1490 C870,1540 860,1590 855,1623"/>
<path class="t" d="M1120,700 C1110,780 1120,880 1120,900 C1130,950 1150,1000 1190,1010 L1200,1100 M1200,820 C1250,900 1300,1000 1380,1100 L1520,1250 M1220,800 C1330,850 1430,900 1500,940 M1260,760 L1490,880 M1180,800 C1230,830 1280,850 1330,870"/>
<path class="t" d="M1270,950 L1440,930 L1450,1000 L1290,1050 M1330,1050 L1420,1040 L1460,1130 L1510,1230 M1170,1400 L1200,1310 L1380,1350 L1460,1280 L1500,1270 C1530,1290 1550,1320 1550,1350 L1800,1290 M1170,1460 L1550,1352 M1280,180 C1300,160 1360,150 1400,160 L1510,200 L1600,240 M1500,200 L1500,320 L1600,352 M1420,400 L1600,382 M1830,470 L1940,460 L1900,620 L1820,600 Z M1740,500 L1770,560 M1730,510 L1760,570 M1080,1170 L1300,1200 M1120,1230 L1300,1260"/>
<path class="d" d="M1490,190 L1600,370"/>
<path class="k" d="M520,660 C540,650 570,660 575,690 C575,720 570,745 560,760 C540,740 520,700 520,660 Z"/>
<ellipse class="t" cx="1225" cy="212" rx="25" ry="30"/><ellipse class="t" cx="1330" cy="198" rx="50" ry="38"/><ellipse class="t" cx="1560" cy="132" rx="30" ry="35"/><ellipse class="t" cx="1160" cy="312" rx="35" ry="40"/><ellipse class="t" cx="1065" cy="332" rx="20" ry="25"/><ellipse class="t" cx="1140" cy="652" rx="35" ry="40"/><ellipse class="t" cx="1150" cy="752" rx="25" ry="40"/><ellipse class="t" cx="1110" cy="1062" rx="35" ry="40"/><ellipse class="t" cx="1090" cy="1402" rx="35" ry="40"/><ellipse class="t" cx="990" cy="1452" rx="22" ry="25"/><ellipse class="t" cx="1480" cy="1322" rx="25" ry="30"/><ellipse class="t" cx="1985" cy="572" rx="20" ry="28"/>
<ellipse class="t" cx="1950" cy="45" rx="30" ry="30"/><ellipse class="t" cx="1920" cy="392" rx="28" ry="38"/><ellipse class="k" cx="1715" cy="362" rx="40" ry="60"/><ellipse class="t" cx="1722" cy="365" rx="28" ry="45"/>
<ellipse class="t" cx="1900" cy="802" rx="28" ry="35"/><ellipse class="t" cx="1880" cy="1152" rx="30" ry="35"/><ellipse class="t" cx="1950" cy="1167" rx="20" ry="25"/><ellipse class="t" cx="1820" cy="1242" rx="20" ry="28"/><ellipse class="k" cx="1700" cy="552" rx="40" ry="60"/><ellipse class="t" cx="1708" cy="555" rx="28" ry="45"/>
<ellipse class="t" cx="1210" cy="1300" rx="28" ry="38"/><ellipse class="t" cx="1520" cy="1182" rx="28" ry="38"/>
</g>
<!-- G1 [170,1050,590,1470] -->
<g transform="translate(170,1050) scale(0.25878)">
<path class="k" d="M115,480 L565,335 L572,352 L122,500 Z"/>
<path class="k" d="M85,515 L575,352 L610,340 L625,360 L650,400 M85,515 C88,560 110,610 130,650 L205,825 M85,515 L80,550 C70,570 75,600 80,620 L50,650 L55,665 L140,690 L200,820"/>
<path class="t" d="M120,680 L140,740 M470,385 L520,440 L540,480 M500,380 L540,440 M520,375 L560,430 M600,345 L640,420 L710,440 L720,470 L760,480"/>
<path class="k" d="M205,825 L265,880 L510,1082 L555,1115 L650,1095 L990,1040 C1030,1040 1070,1060 1085,1100 C1100,1150 1150,1210 1250,1280 C1300,1310 1400,1300 1480,1265 L1560,1230 L1623,1200"/>
<path class="t" d="M1085,1040 L1150,1090 L1340,1160 L1623,1172 M560,1100 L640,1085 L1000,1030 M255,870 L510,1075"/>
<path class="t" d="M105,572 C300,540 600,640 850,790 C1000,880 1060,960 1065,1030"/>
<path class="t" d="M205,780 C205,720 300,690 450,720 C650,760 900,860 980,950 C1020,1000 995,1030 950,1032 L560,1080"/>
<path class="t" d="M560,545 L850,640 M590,510 L830,455 L940,470 M640,565 L880,520"/>
<path class="k" d="M520,460 C530,420 580,400 640,400 C680,400 710,420 715,460 C715,480 700,490 680,490 L600,520 L560,540 C530,520 520,490 520,460 Z"/>
<ellipse class="k" cx="625" cy="450" rx="35" ry="38"/><ellipse class="t" cx="625" cy="450" rx="15" ry="16"/>
<path class="k" d="M880,510 C880,470 920,440 960,440 L990,430 L985,500 C970,530 920,550 890,540 Z"/>
<ellipse class="k" cx="935" cy="490" rx="22" ry="30"/><ellipse class="t" cx="935" cy="490" rx="10" ry="14"/>
<path class="t" d="M700,470 L760,460 L770,475"/>
<!-- lugs -->
<path class="k" d="M700,1100 C690,1140 720,1165 760,1160 C800,1155 820,1120 815,1100"/>
<ellipse class="t" cx="745" cy="1120" rx="25" ry="20"/>
<ellipse class="k" cx="1045" cy="1075" rx="28" ry="30"/><ellipse class="t" cx="1048" cy="1078" rx="12" ry="14"/>
<path class="t" d="M1060,1095 L1085,1120 L1080,1140"/>
<path class="k" d="M1480,1250 C1470,1290 1500,1310 1530,1305 C1570,1300 1590,1270 1580,1240"/>
<ellipse class="t" cx="1510" cy="1260" rx="22" ry="20"/>
<path class="d" d="M1490,870 L1370,1140"/>
<!-- bolt -->
<ellipse class="k" cx="690" cy="1265" rx="30" ry="35"/><ellipse class="t" cx="685" cy="1270" rx="12" ry="14"/>
<path class="k" d="M700,1232 L810,1195 C830,1200 835,1225 820,1235 L715,1295"/>
<path class="t" d="M745,1225 L755,1262 M760,1220 L770,1255 M775,1213 L785,1250 M790,1208 L800,1244"/>
<path class="d" d="M840,1198 L1078,1092"/>
<path class="k" style="stroke-width:2.3" d="M775,1250 L830,1465 M270,890 L242,1425"/>
</g>
<!-- G2 [560,1050,980,1470] -->
<g transform="translate(560,1050) scale(0.25878)">
<path class="k" d="M180,680 C190,730 210,760 240,770 L500,745 L555,712 L690,770 L700,800 L670,1075 L740,1080 L735,1100 L620,1140 L0,1165"/>
<path class="t" d="M0,835 L630,820 L690,775 M630,830 L640,1100 M0,1140 L620,1130 M665,1090 L740,1075"/>
<path class="k" d="M-30,1200 C100,1220 250,1230 380,1210 C480,1190 560,1170 600,1150 M0,1290 C120,1310 280,1310 420,1260 C500,1220 560,1190 600,1150"/>
<path class="t" d="M0,1215 C150,1240 300,1250 420,1200 L560,1160"/>
<ellipse class="k" cx="10" cy="1265" rx="30" ry="32"/><ellipse class="t" cx="10" cy="1265" rx="14" ry="16"/>
<path class="d" d="M610,742 L772,650 L942,695 L975,682"/>
<!-- foam -->
<path class="k" d="M718,800 L785,768 L848,790 L860,1000 L800,1025 L730,1000 Z M718,800 L775,820 L848,790 M775,820 L800,1025"/>
<path class="t" d="M740,850 l5,20 M760,900 l-8,25 M745,960 l10,15 M800,850 l8,15 M820,920 l-5,20 M830,860 l5,25 M790,960 l10,-15 M815,990 l10,-10 M760,800 l20,-5 M800,790 l15,5"/>
<!-- pad -->
<path class="k" d="M895,725 L965,712 L975,940 L912,955 L905,940 Z M895,725 L915,745 L960,740"/>
<path class="k" d="M965,660 C980,640 1000,640 1010,665 L1045,680 L1075,910 L1030,945 L1020,965 C1000,975 985,960 990,940 L975,940"/>
<path class="t" d="M980,670 L1040,695 L1065,910 M990,760 L1030,740 M990,800 L1035,780 M990,850 L1040,830 M995,895 L1040,880"/>
<ellipse class="t" cx="980" cy="670" rx="10" ry="12"/><ellipse class="t" cx="1010" cy="945" rx="12" ry="14"/>
<!-- screw -->
<ellipse class="k" cx="1122" cy="577" rx="20" ry="26" transform="rotate(-20 1122 577)"/>
<path class="k" d="M1045,615 L1105,590 M1050,630 L1110,600"/>
<path class="t" d="M1055,610 l5,18 M1068,605 l5,18 M1081,600 l5,18 M1094,595 l5,18"/>
<path class="k" style="stroke-width:2.3" d="M775,1020 L925,1420 M990,945 L930,1420 M1100,600 L1240,1420 M960,1485 L960,1555"/>
</g>
<!-- G3 [400,1070,760,1330] scale 6.242 -->
<g transform="translate(400,1070) scale(0.16021)">

<path class="k" d="M895,340 C930,250 1010,180 1100,140 C1200,100 1320,90 1420,120 C1530,160 1620,280 1700,460 L1900,1040"/>
<path class="t" d="M1060,170 C1200,150 1350,200 1430,280 C1510,370 1560,470 1570,590 C1575,700 1530,800 1450,850 C1380,890 1280,900 1200,880"/>
<ellipse class="t" cx="1165" cy="562" rx="280" ry="298"/>
<ellipse class="t" cx="1170" cy="560" rx="250" ry="275"/>
<ellipse class="k" cx="1180" cy="552" rx="228" ry="250"/>

<path class="t" d="M1279.3,560.3 L1391.7,569.0 L1344.5,700.6 L1259.4,615.7 Z M1304.9,590.3 L1355.5,594.2 L1334.3,653.5 L1296.0,615.2 Z M1279.3,560.3 L1304.9,590.3 M1391.7,569.0 L1355.5,594.2 M1344.5,700.6 L1334.3,653.5 M1259.4,615.7 L1296.0,615.2 M1247.8,628.2 L1326.6,719.9 L1204.6,770.9 L1196.5,649.6 Z M1247.4,667.7 L1282.9,708.9 L1228.0,731.9 L1224.3,677.3 Z M1247.8,628.2 L1247.4,667.7 M1326.6,719.9 L1282.9,708.9 M1204.6,770.9 L1228.0,731.9 M1196.5,649.6 L1224.3,677.3 M1179.5,649.1 L1178.6,770.0 L1053.3,710.6 L1126.9,624.1 Z M1153.3,674.9 L1152.9,729.3 L1096.5,702.6 L1129.6,663.7 Z M1179.5,649.1 L1153.3,674.9 M1178.6,770.0 L1152.9,729.3 M1053.3,710.6 L1096.5,702.6 M1126.9,624.1 L1129.6,663.7 M1114.5,610.7 L1034.3,690.1 L979.1,555.0 L1091.3,554.0 Z M1077.8,607.8 L1041.7,643.5 L1016.9,582.7 L1067.3,582.3 Z M1114.5,610.7 L1077.8,607.8 M1034.3,690.1 L1041.7,643.5 M979.1,555.0 L1016.9,582.7 M1091.3,554.0 L1067.3,582.3 M1090.7,535.7 L978.3,527.0 L1025.5,395.4 L1110.6,480.3 Z M1065.1,505.7 L1014.5,501.8 L1035.7,442.5 L1074.0,480.8 Z M1090.7,535.7 L1065.1,505.7 M978.3,527.0 L1014.5,501.8 M1025.5,395.4 L1035.7,442.5 M1110.6,480.3 L1074.0,480.8 M1122.2,467.8 L1043.4,376.1 L1165.4,325.1 L1173.5,446.4 Z M1122.6,428.3 L1087.1,387.1 L1142.0,364.1 L1145.7,418.7 Z M1122.2,467.8 L1122.6,428.3 M1043.4,376.1 L1087.1,387.1 M1165.4,325.1 L1142.0,364.1 M1173.5,446.4 L1145.7,418.7 M1190.5,446.9 L1191.4,326.0 L1316.7,385.4 L1243.1,471.9 Z M1216.7,421.1 L1217.1,366.7 L1273.5,393.4 L1240.4,432.3 Z M1190.5,446.9 L1216.7,421.1 M1191.4,326.0 L1217.1,366.7 M1316.7,385.4 L1273.5,393.4 M1243.1,471.9 L1240.4,432.3 M1255.5,485.3 L1335.7,405.9 L1390.9,541.0 L1278.7,542.0 Z M1292.2,488.2 L1328.3,452.5 L1353.1,513.3 L1302.7,513.7 Z M1255.5,485.3 L1292.2,488.2 M1335.7,405.9 L1328.3,452.5 M1390.9,541.0 L1353.1,513.3 M1278.7,542.0 L1302.7,513.7"/>

<ellipse class="k" style="fill:#fff" cx="1125" cy="592" rx="100" ry="115"/>
<path class="t" d="M1000,420 l-30,40 l-10,60 l20,50 M1060,720 l40,50 l120,30 l30,-20"/>
<path class="t" d="M1550,490 C1620,650 1660,850 1680,1080 M1550,740 C1640,850 1750,950 1790,1070"/>
<ellipse class="k" cx="1410" cy="990" rx="72" ry="86"/>
<ellipse class="t" cx="1420" cy="988" rx="50" ry="64"/><ellipse class="t" cx="1445" cy="985" rx="25" ry="32"/>
<path class="k" d="M1250,900 C1300,1000 1330,1090 1370,1112 L1820,1082 L1900,1040"/>
<path class="k" d="M160,580 C200,520 300,450 420,420 C520,400 590,400 640,420 C640,380 680,352 740,340 L880,345 M760,462 C790,422 840,382 880,362"/>
<ellipse class="k" cx="695" cy="432" rx="40" ry="48"/><ellipse class="t" cx="698" cy="432" rx="25" ry="30"/>
<path class="t" d="M215,540 C320,480 470,470 610,580 M670,592 C750,582 830,540 880,490 M640,420 C630,460 650,490 700,495 C740,490 760,470 770,440"/>
<ellipse class="t" cx="345" cy="730" rx="180" ry="158"/>
<ellipse class="t" cx="340" cy="750" rx="128" ry="128"/>
<path class="k" d="M300,695 C250,690 210,740 212,790 C215,840 250,875 300,875 L395,875"/>
<ellipse class="t" cx="300" cy="782" rx="78" ry="90"/>
<path class="t" d="M45,935 C200,990 350,1040 500,1050 L1160,1065 C1250,1040 1280,990 1220,950 L1180,935"/>
<path class="t" d="M380,970 C500,980 650,950 830,910 M870,900 C950,900 1050,920 1110,935 M720,862 C800,822 900,800 1000,810 C1060,815 1100,830 1120,842"/>
<path class="t" d="M60,1142 C100,1120 300,1140 600,1180 C800,1215 900,1230 1100,1225 L1950,1215 C2000,1210 2060,1170 2110,1130"/>

</g><!-- H [1600,1100,2020,1520] -->
<g transform="translate(1600,1100) scale(0.25878)">
<path class="kg" d="M416.9,588.8 L424.0,602.1 L422.7,615.0 L413.4,623.5 L411.6,634.7 L416.5,652.4 L413.7,664.3 L404.0,666.7 L400.9,676.6 L403.2,697.3 L399.1,707.2 L389.8,703.3 L385.6,711.1 L385.3,733.0 L380.2,740.2 L371.9,730.4 L367.1,735.4 L364.0,756.8 L358.4,760.6 L351.9,745.6 L346.7,747.4 L341.2,766.6 L335.5,766.8 L331.3,747.9 L326.3,746.4 L318.7,761.7 L313.4,758.2 L311.8,736.9 L307.3,732.2 L298.4,742.5 L293.8,735.6 L295.0,713.7 L291.4,706.2 L281.8,710.6 L278.4,700.9 L282.3,680.0 L279.9,670.3 L270.3,668.4 L268.4,656.7 L274.6,638.6 L273.6,627.5 L264.9,619.5 L264.6,606.7 L272.7,592.9 L273.1,581.2 L266.0,567.9 L267.3,555.0 L276.6,546.5 L278.4,535.3 L273.5,517.6 L276.3,505.7 L286.0,503.3 L289.1,493.4 L286.8,472.7 L290.9,462.8 L300.2,466.7 L304.4,458.9 L304.7,437.0 L309.8,429.8 L318.1,439.6 L322.9,434.6 L326.0,413.2 L331.6,409.4 L338.1,424.4 L343.3,422.6 L348.8,403.4 L354.5,403.2 L358.7,422.1 L363.7,423.6 L371.3,408.3 L376.6,411.8 L378.2,433.1 L382.7,437.8 L391.6,427.5 L396.2,434.4 L395.0,456.3 L398.6,463.8 L408.2,459.4 L411.6,469.1 L407.7,490.0 L410.1,499.7 L419.7,501.6 L421.6,513.3 L415.4,531.4 L416.4,542.5 L425.1,550.5 L425.4,563.3 L417.3,577.1 Z"/>
<path class="tg" d="M424.0,602.1 l165.0,-18.0 M422.7,615.0 l165.0,-18.0 M416.5,652.4 l165.0,-18.0 M413.7,664.3 l165.0,-18.0 M403.2,697.3 l165.0,-18.0 M399.1,707.2 l165.0,-18.0 M385.3,733.0 l165.0,-18.0 M380.2,740.2 l165.0,-18.0 M364.0,756.8 l165.0,-18.0 M331.6,409.4 l165.0,-18.0 M348.8,403.4 l165.0,-18.0 M354.5,403.2 l165.0,-18.0 M371.3,408.3 l165.0,-18.0 M376.6,411.8 l165.0,-18.0 M391.6,427.5 l165.0,-18.0 M396.2,434.4 l165.0,-18.0 M408.2,459.4 l165.0,-18.0 M411.6,469.1 l165.0,-18.0 M419.7,501.6 l165.0,-18.0 M421.6,513.3 l165.0,-18.0 M425.1,550.5 l165.0,-18.0 M425.4,563.3 l165.0,-18.0"/>
<path class="kg" d="M581.9,570.8 L589.0,584.1 L587.7,597.0 L578.4,605.5 L576.6,616.7 L581.5,634.4 L578.7,646.3 L569.0,648.7 L565.9,658.6 L568.2,679.3 L564.1,689.2 L554.8,685.3 L550.6,693.1 L550.3,715.0 L545.2,722.2 L536.9,712.4 L532.1,717.4 L529.0,738.8 M496.6,391.4 L503.1,406.4 L508.3,404.6 L513.8,385.4 L519.5,385.2 L523.7,404.1 L528.7,405.6 L536.3,390.3 L541.6,393.8 L543.2,415.1 L547.7,419.8 L556.6,409.5 L561.2,416.4 L560.0,438.3 L563.6,445.8 L573.2,441.4 L576.6,451.1 L572.7,472.0 L575.1,481.7 L584.7,483.6 L586.6,495.3 L580.4,513.4 L581.4,524.5 L590.1,532.5 L590.4,545.3 L582.3,559.1 L581.9,570.8"/>
<ellipse class="k" cx="357" cy="588" rx="66" ry="150" transform="rotate(3 357 588)"/>
<ellipse class="t" cx="407" cy="588" rx="38" ry="100" transform="rotate(3 407 588)"/>
<path class="t" d="M390,505 C435,525 445,645 415,685"/>
<ellipse class="t" cx="373" cy="495" rx="10" ry="15"/><ellipse class="t" cx="367" cy="543" rx="10" ry="15"/><ellipse class="t" cx="377" cy="603" rx="12" ry="25"/><ellipse class="t" cx="390" cy="640" rx="10" ry="15"/><ellipse class="t" cx="430" cy="677" rx="12" ry="16"/>
<path class="kg" d="M389.9,1023.8 L397.0,1037.1 L395.7,1050.0 L386.4,1058.5 L384.6,1069.7 L389.5,1087.4 L386.7,1099.3 L377.0,1101.7 L373.9,1111.6 L376.2,1132.3 L372.1,1142.2 L362.8,1138.3 L358.6,1146.1 L358.3,1168.0 L353.2,1175.2 L344.9,1165.4 L340.1,1170.4 L337.0,1191.8 L331.4,1195.6 L324.9,1180.6 L319.7,1182.4 L314.2,1201.6 L308.5,1201.8 L304.3,1182.9 L299.3,1181.4 L291.7,1196.7 L286.4,1193.2 L284.8,1171.9 L280.3,1167.2 L271.4,1177.5 L266.8,1170.6 L268.0,1148.7 L264.4,1141.2 L254.8,1145.6 L251.4,1135.9 L255.3,1115.0 L252.9,1105.3 L243.3,1103.4 L241.4,1091.7 L247.6,1073.6 L246.6,1062.5 L237.9,1054.5 L237.6,1041.7 L245.7,1027.9 L246.1,1016.2 L239.0,1002.9 L240.3,990.0 L249.6,981.5 L251.4,970.3 L246.5,952.6 L249.3,940.7 L259.0,938.3 L262.1,928.4 L259.8,907.7 L263.9,897.8 L273.2,901.7 L277.4,893.9 L277.7,872.0 L282.8,864.8 L291.1,874.6 L295.9,869.6 L299.0,848.2 L304.6,844.4 L311.1,859.4 L316.3,857.6 L321.8,838.4 L327.5,838.2 L331.7,857.1 L336.7,858.6 L344.3,843.3 L349.6,846.8 L351.2,868.1 L355.7,872.8 L364.6,862.5 L369.2,869.4 L368.0,891.3 L371.6,898.8 L381.2,894.4 L384.6,904.1 L380.7,925.0 L383.1,934.7 L392.7,936.6 L394.6,948.3 L388.4,966.4 L389.4,977.5 L398.1,985.5 L398.4,998.3 L390.3,1012.1 Z"/>
<path class="tg" d="M397.0,1037.1 l165.0,-18.0 M395.7,1050.0 l165.0,-18.0 M389.5,1087.4 l165.0,-18.0 M386.7,1099.3 l165.0,-18.0 M376.2,1132.3 l165.0,-18.0 M372.1,1142.2 l165.0,-18.0 M358.3,1168.0 l165.0,-18.0 M353.2,1175.2 l165.0,-18.0 M337.0,1191.8 l165.0,-18.0 M304.6,844.4 l165.0,-18.0 M321.8,838.4 l165.0,-18.0 M327.5,838.2 l165.0,-18.0 M344.3,843.3 l165.0,-18.0 M349.6,846.8 l165.0,-18.0 M364.6,862.5 l165.0,-18.0 M369.2,869.4 l165.0,-18.0 M381.2,894.4 l165.0,-18.0 M384.6,904.1 l165.0,-18.0 M392.7,936.6 l165.0,-18.0 M394.6,948.3 l165.0,-18.0 M398.1,985.5 l165.0,-18.0 M398.4,998.3 l165.0,-18.0"/>
<path class="kg" d="M554.9,1005.8 L562.0,1019.1 L560.7,1032.0 L551.4,1040.5 L549.6,1051.7 L554.5,1069.4 L551.7,1081.3 L542.0,1083.7 L538.9,1093.6 L541.2,1114.3 L537.1,1124.2 L527.8,1120.3 L523.6,1128.1 L523.3,1150.0 L518.2,1157.2 L509.9,1147.4 L505.1,1152.4 L502.0,1173.8 M469.6,826.4 L476.1,841.4 L481.3,839.6 L486.8,820.4 L492.5,820.2 L496.7,839.1 L501.7,840.6 L509.3,825.3 L514.6,828.8 L516.2,850.1 L520.7,854.8 L529.6,844.5 L534.2,851.4 L533.0,873.3 L536.6,880.8 L546.2,876.4 L549.6,886.1 L545.7,907.0 L548.1,916.7 L557.7,918.6 L559.6,930.3 L553.4,948.4 L554.4,959.5 L563.1,967.5 L563.4,980.3 L555.3,994.1 L554.9,1005.8"/>
<ellipse class="k" cx="330" cy="1023" rx="66" ry="150" transform="rotate(3 330 1023)"/>
<ellipse class="t" cx="380" cy="1023" rx="38" ry="100" transform="rotate(3 380 1023)"/>
<path class="t" d="M363,940 C408,960 418,1080 388,1120"/>
<ellipse class="t" cx="346" cy="930" rx="10" ry="15"/><ellipse class="t" cx="340" cy="978" rx="10" ry="15"/><ellipse class="t" cx="350" cy="1038" rx="12" ry="25"/><ellipse class="t" cx="363" cy="1075" rx="10" ry="15"/><ellipse class="t" cx="403" cy="1112" rx="12" ry="16"/>

<g class="thin">
<path class="k" d="M588,375 L1300,150 C1340,148 1362,170 1370,200 L1388,250 L1390,590 C1410,630 1392,685 1350,705 L1340,1000 C1338,1025 1320,1036 1295,1040 L600,1240"/>
<path class="k" d="M588,375 L598,408 C660,455 700,560 712,710 C722,900 690,1110 590,1225 L552,1262 M518,1210 L528,1250 L552,1262 M590,1225 L560,1200 L530,1210"/>
<path class="t" d="M600,380 C680,460 720,580 730,720 C740,900 700,1110 610,1240"/>
<path class="t" d="M790,550 C825,700 825,900 785,1050 C750,1150 710,1200 650,1232 M805,560 C840,710 840,900 800,1050"/>
<path class="t" d="M720,345 L1300,165 M730,362 L1310,182 M1225,236 L1310,208 M1225,252 L1310,224 M770,422 L872,392 M1370,205 L1380,600"/>
<ellipse class="k" cx="1030" cy="342" rx="35" ry="45" transform="rotate(10 1030 342)"/><ellipse class="t" cx="1025" cy="345" rx="18" ry="25"/>
<ellipse class="k" cx="1330" cy="642" rx="40" ry="50" transform="rotate(10 1330 642)"/><ellipse class="t" cx="1325" cy="645" rx="20" ry="28"/>
<path class="t" d="M1100,350 C1140,450 1140,550 1090,600 M1020,430 C1040,520 1010,600 950,650 L880,690 L850,760 L850,1150 L880,1140"/>
<path class="d" d="M1090,600 C1180,620 1230,680 1230,750 C1220,800 1180,820 1150,830 M980,690 C960,760 990,800 1040,810 M910,930 C880,980 920,1020 980,1040"/>
<ellipse class="k" cx="1100" cy="725" rx="58" ry="62" transform="rotate(10 1100 725)"/>
<ellipse class="t" cx="1100" cy="725" rx="45" ry="50" transform="rotate(10 1100 725)"/>
<path class="k" d="M990,930 C990,870 1020,850 1060,840 L1210,820 C1242,815 1252,848 1250,880 L1232,960 C1222,1000 1200,1010 1150,1020 L1040,1042 C1000,1046 986,1010 990,970 Z"/>
<path class="t" d="M1005,930 C1005,880 1030,865 1065,858 L1200,840 C1228,836 1235,860 1232,885 L1218,955 C1210,990 1190,998 1150,1006 L1045,1026 C1012,1030 1002,1005 1005,975 Z M1130,860 L1135,910 L1160,905 L1155,855 M1010,960 L1135,925"/>
<path class="t" d="M1240,860 C1270,850 1290,880 1275,905 L1250,920"/>
<ellipse class="t" cx="1262" cy="885" rx="10" ry="12"/><ellipse class="t" cx="968" cy="982" rx="10" ry="14"/>
<path class="k" d="M580,810 C600,790 640,790 700,785 L705,830 L640,860 C600,870 575,850 580,810 Z"/>
<ellipse class="k" cx="595" cy="835" rx="22" ry="32"/><ellipse class="t" cx="597" cy="835" rx="10" ry="14"/>
<path class="t" d="M620,720 L700,700 L705,770 M620,720 L625,800 M830,770 L830,810 M600,1170 L640,1150 M940,1070 C970,1050 1010,1050 1030,1080 M1000,1090 L1010,1050"/>
</g>

</g><!-- extras in src coords -->

<path class="d" d="M1089,651 L1169,634"/>
<path class="d" d="M1188,697 L1213,691 L1213,676 L1240,667"/>
<path class="d" d="M1105,716 L1122,712"/>
<path class="k" style="stroke-width:2.3" d="M294,817 L312,953 M1162,785 L1163,872 M1175,757 L1175,763"/>
<path class="d" d="M1180,882 L1336,850 L1336,787 L1357,783"/>
<g transform="translate(1058,662) scale(1.2)">
<path class="k" d="M10,-16 L26,-20 C32,-15 33,3 28,7 L10,12"/>
<path class="t" d="M14,-17 L15,11 M17.5,-18 L18.5,10 M21,-19 L22,9 M24.5,-19.5 L25.5,8"/>
<path class="k" style="fill:#fff" d="M-16,-3 L-6,-17 L6,-18 L14,-6 L14,12 L5,19 L-7,17 L-15,6 Z"/>
<path class="t" d="M6,-18 L8,-4 L7,14 L5,19 M8,-4 L14,-6"/>
<path class="k" style="fill:#fff" d="M-42,2 L2,-6 L4,6 L-40,14 C-44,13 -45,4 -42,2 Z"/>
<path class="t" d="M-36,1 L-34,13 M-32,0 L-30,12 M-28,-1 L-26,11 M-24,-2 L-22,10"/>
</g>
<g transform="translate(1148,704) scale(1.2)">
<path class="k" d="M10,-16 L26,-20 C32,-15 33,3 28,7 L10,12"/>
<path class="t" d="M14,-17 L15,11 M17.5,-18 L18.5,10 M21,-19 L22,9 M24.5,-19.5 L25.5,8"/>
<path class="k" style="fill:#fff" d="M-16,-3 L-6,-17 L6,-18 L14,-6 L14,12 L5,19 L-7,17 L-15,6 Z"/>
<path class="t" d="M6,-18 L8,-4 L7,14 L5,19 M8,-4 L14,-6"/>
<path class="k" style="fill:#fff" d="M-42,2 L2,-6 L4,6 L-40,14 C-44,13 -45,4 -42,2 Z"/>
<path class="t" d="M-36,1 L-34,13 M-32,0 L-30,12 M-28,-1 L-26,11 M-24,-2 L-22,10"/>
</g>
<g transform="translate(1297,1037) scale(1.25)">
<path class="k" d="M10,-16 L26,-20 C32,-15 33,3 28,7 L10,12"/>
<path class="t" d="M14,-17 L15,11 M17.5,-18 L18.5,10 M21,-19 L22,9 M24.5,-19.5 L25.5,8"/>
<path class="k" style="fill:#fff" d="M-16,-3 L-6,-17 L6,-18 L14,-6 L14,12 L5,19 L-7,17 L-15,6 Z"/>
<path class="t" d="M6,-18 L8,-4 L7,14 L5,19 M8,-4 L14,-6"/>
<path class="k" style="fill:#fff" d="M-42,2 L2,-6 L4,6 L-40,14 C-44,13 -45,4 -42,2 Z"/>
<path class="t" d="M-36,1 L-34,13 M-32,0 L-30,12 M-28,-1 L-26,11 M-24,-2 L-22,10"/>
</g>
<g transform="translate(1310,1149) scale(1.25)">
<path class="k" d="M10,-16 L26,-20 C32,-15 33,3 28,7 L10,12"/>
<path class="t" d="M14,-17 L15,11 M17.5,-18 L18.5,10 M21,-19 L22,9 M24.5,-19.5 L25.5,8"/>
<path class="k" style="fill:#fff" d="M-16,-3 L-6,-17 L6,-18 L14,-6 L14,12 L5,19 L-7,17 L-15,6 Z"/>
<path class="t" d="M6,-18 L8,-4 L7,14 L5,19 M8,-4 L14,-6"/>
<path class="k" style="fill:#fff" d="M-42,2 L2,-6 L4,6 L-40,14 C-44,13 -45,4 -42,2 Z"/>
<path class="t" d="M-36,1 L-34,13 M-32,0 L-30,12 M-28,-1 L-26,11 M-24,-2 L-22,10"/>
</g>
<path class="k" d="M1094,470 L1104,540 M1098,471 L1108,540" style="stroke-width:1.6"/>
<defs><clipPath id="lbl"><rect x="1800" y="1440" width="250" height="35.3"/></clipPath></defs>
<text x="1855.5" y="1481.5" font-size="31" textLength="121" lengthAdjust="spacingAndGlyphs" clip-path="url(#lbl)" style="font-family:'Liberation Sans',sans-serif;stroke:#000;stroke-width:0.3">TST00508</text>
</svg>
</body></html>
